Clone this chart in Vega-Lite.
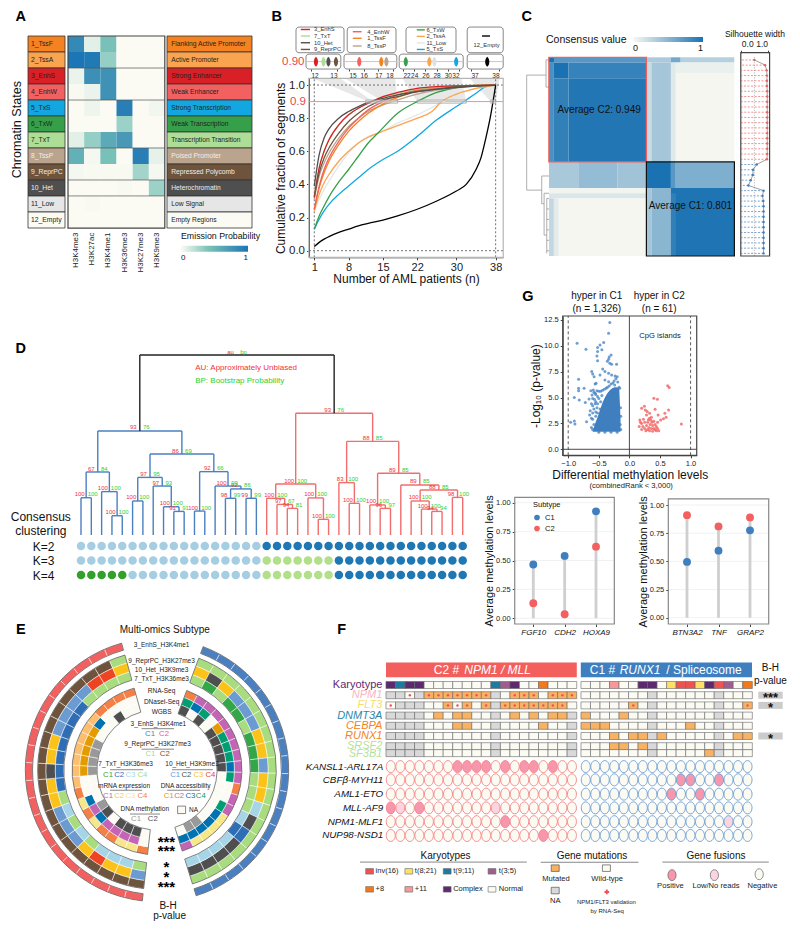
{"$schema":"https://vega.github.io/schema/vega-lite/v6.json","width":800,"height":933,"autosize":{"type":"fit","contains":"padding"},"padding":0,"background":"#ffffff",
"config":{"font":"Liberation Sans","view":{"stroke":null},"axis":{"grid":false,"labelColor":"#222","tickColor":"#444","domainColor":"#444","titleFontWeight":"normal","titleColor":"#111","labelFontSize":8,"tickSize":2.5,"labelPadding":2},"legend":{"titleFontWeight":"normal","titleColor":"#111","labelColor":"#111"},"text":{"baseline":"middle"}},
"resolve":{"scale":{"x":"independent","y":"independent","color":"independent","theta":"independent","radius":"independent","stroke":"independent"},"axis":{"x":"independent","y":"independent"},"legend":{"color":"independent","stroke":"independent"}},
"datasets":{
"states":[{"s":"1_TssF","n":"Flanking Active Promoter"},{"s":"2_TssA","n":"Active Promoter"},{"s":"3_EnhS","n":"Strong Enhancer"},{"s":"4_EnhW","n":"Weak Enhancer"},{"s":"5_TxS","n":"Strong Transcription"},{"s":"6_TxW","n":"Weak Transcription"},{"s":"7_TxT","n":"Transcription Transition"},{"s":"8_TssP","n":"Poised Promoter"},{"s":"9_ReprPC","n":"Repressed Polycomb"},{"s":"10_Het","n":"Heterochromatin"},{"s":"11_Low","n":"Low Signal"},{"s":"12_Empty","n":"Empty Regions"}],
"merges":[{"a":0,"b":1,"ha":0,"hb":0,"h":0.207,"m":0.5,"au":"100","bp":"100","k":"b"},{"a":3,"b":4,"ha":0,"hb":0,"h":0.107,"m":3.5,"au":"100","bp":"100","k":"b"},{"a":2,"b":3.5,"ha":0,"hb":0.107,"h":0.241,"m":2.75,"au":"100","bp":"100","k":"b"},{"a":0.5,"b":2.75,"ha":0.207,"hb":0.241,"h":0.35,"m":1.625,"au":"67","bp":"84","k":"b"},{"a":5,"b":6,"ha":0,"hb":0,"h":0.189,"m":5.5,"au":"100","bp":"100","k":"b"},{"a":9,"b":10,"ha":0,"hb":0,"h":0.131,"m":9.5,"au":"91","bp":"91","k":"b"},{"a":8,"b":9.5,"ha":0,"hb":0.131,"h":0.157,"m":8.75,"au":"100","bp":"100","k":"b"},{"a":7,"b":8.75,"ha":0,"hb":0.157,"h":0.272,"m":7.875,"au":"97","bp":"93","k":"b"},{"a":5.5,"b":7.875,"ha":0.189,"hb":0.272,"h":0.32,"m":6.69,"au":"97","bp":"95","k":"b"},{"a":11,"b":12,"ha":0,"hb":0,"h":0.133,"m":11.5,"au":"100","bp":"100","k":"b"},{"a":14,"b":15,"ha":0,"hb":0,"h":0.204,"m":14.5,"au":"98","bp":"99","k":"b"},{"a":16,"b":17,"ha":0,"hb":0,"h":0.204,"m":16.5,"au":"99","bp":"99","k":"b"},{"a":14.5,"b":16.5,"ha":0.204,"hb":0.204,"h":0.256,"m":15.5,"au":"92","bp":"86","k":"b"},{"a":13,"b":15.5,"ha":0,"hb":0.256,"h":0.272,"m":14.25,"au":"100","bp":"99","k":"b"},{"a":11.5,"b":14.25,"ha":0.133,"hb":0.272,"h":0.352,"m":12.875,"au":"92","bp":"66","k":"b"},{"a":6.69,"b":12.875,"ha":0.32,"hb":0.352,"h":0.45,"m":9.78,"au":"86","bp":"69","k":"b"},{"a":1.625,"b":9.78,"ha":0.35,"hb":0.45,"h":0.578,"m":5.7,"au":"93","bp":"76","k":"b"},{"a":20,"b":21,"ha":0,"hb":0,"h":0.148,"m":20.5,"au":"94","bp":"81","k":"r"},{"a":19,"b":20.5,"ha":0,"hb":0.148,"h":0.17,"m":19.75,"au":"97","bp":"67","k":"r"},{"a":18,"b":19.75,"ha":0,"hb":0.17,"h":0.204,"m":18.875,"au":"100","bp":"100","k":"r"},{"a":23,"b":24,"ha":0,"hb":0,"h":0.087,"m":23.5,"au":"100","bp":"100","k":"r"},{"a":22,"b":23.5,"ha":0,"hb":0.087,"h":0.206,"m":22.75,"au":"100","bp":"100","k":"r"},{"a":18.875,"b":22.75,"ha":0.204,"hb":0.206,"h":0.283,"m":20.81,"au":"100","bp":"100","k":"r"},{"a":26,"b":27,"ha":0,"hb":0,"h":0.176,"m":26.5,"au":"100","bp":"100","k":"r"},{"a":25,"b":26.5,"ha":0,"hb":0.176,"h":0.291,"m":25.75,"au":"83","bp":"100","k":"r"},{"a":29,"b":30,"ha":0,"hb":0,"h":0.148,"m":29.5,"au":"96","bp":"97","k":"r"},{"a":28,"b":29.5,"ha":0,"hb":0.148,"h":0.167,"m":28.75,"au":"100","bp":"100","k":"r"},{"a":34,"b":35,"ha":0,"hb":0,"h":0.131,"m":34.5,"au":"94","bp":"94","k":"r"},{"a":33,"b":34.5,"ha":0,"hb":0.131,"h":0.144,"m":33.75,"au":"100","bp":"100","k":"r"},{"a":32,"b":33.75,"ha":0,"hb":0.144,"h":0.189,"m":32.875,"au":"100","bp":"100","k":"r"},{"a":36,"b":37,"ha":0,"hb":0,"h":0.209,"m":36.5,"au":"98","bp":"100","k":"r"},{"a":32.875,"b":36.5,"ha":0.189,"hb":0.209,"h":0.25,"m":34.69,"au":"88","bp":"85","k":"r"},{"a":31,"b":34.69,"ha":0,"hb":0.25,"h":0.278,"m":32.84,"au":"89","bp":"85","k":"r"},{"a":28.75,"b":32.84,"ha":0.167,"hb":0.278,"h":0.343,"m":30.8,"au":"89","bp":"85","k":"r"},{"a":25.75,"b":30.8,"ha":0.291,"hb":0.343,"h":0.52,"m":28.27,"au":"88","bp":"85","k":"r"},{"a":20.81,"b":28.27,"ha":0.283,"hb":0.52,"h":0.676,"m":24.54,"au":"93","bp":"76","k":"r"},{"a":5.7,"b":24.54,"ha":0.578,"hb":0.676,"h":1,"m":15.12,"au":"au","bp":"bp","k":"x"}],
"rings":[{"r":1,"r0":0.945,"r1":1},{"r":2,"r0":0.843,"r1":0.906},{"r":3,"r0":0.772,"r1":0.843},{"r":4,"r0":0.708,"r1":0.772},{"r":5,"r0":0.587,"r1":0.645},{"r":6,"r0":0.526,"r1":0.587},{"r":7,"r0":0.456,"r1":0.526}],
"cellsC2":[{"t":1,"c":0,"v":"Cx"},{"t":1,"c":1,"v":"t911"},{"t":1,"c":2,"v":"Cx"},{"t":1,"c":3,"v":"Cx"},{"t":1,"c":4,"v":"N"},{"t":1,"c":5,"v":"N"},{"t":1,"c":6,"v":"N"},{"t":1,"c":7,"v":"N"},{"t":1,"c":8,"v":"N"},{"t":1,"c":9,"v":"N"},{"t":1,"c":10,"v":"N"},{"t":1,"c":11,"v":"t911"},{"t":1,"c":12,"v":"t35"},{"t":1,"c":13,"v":"Cx"},{"t":1,"c":14,"v":"N"},{"t":1,"c":15,"v":"N"},{"t":1,"c":16,"v":"p8"},{"t":1,"c":17,"v":"N"},{"t":1,"c":18,"v":"N"},{"t":1,"c":19,"v":"N"},
{"t":2,"c":0,"v":"A"},{"t":2,"c":1,"v":"A"},{"t":2,"c":2,"v":"T"},{"t":2,"c":3,"v":"A"},{"t":2,"c":4,"v":"S"},{"t":2,"c":5,"v":"S"},{"t":2,"c":6,"v":"S"},{"t":2,"c":7,"v":"S"},{"t":2,"c":8,"v":"S"},{"t":2,"c":9,"v":"S"},{"t":2,"c":10,"v":"S"},{"t":2,"c":11,"v":"A"},{"t":2,"c":12,"v":"W"},{"t":2,"c":13,"v":"S"},{"t":2,"c":14,"v":"S"},{"t":2,"c":15,"v":"S"},{"t":2,"c":16,"v":"W"},{"t":2,"c":17,"v":"S"},{"t":2,"c":18,"v":"S"},{"t":2,"c":19,"v":"S"},
{"t":3,"c":0,"v":"T"},{"t":3,"c":1,"v":"A"},{"t":3,"c":2,"v":"A"},{"t":3,"c":3,"v":"A"},{"t":3,"c":4,"v":"W"},{"t":3,"c":5,"v":"W"},{"t":3,"c":6,"v":"S"},{"t":3,"c":7,"v":"T"},{"t":3,"c":8,"v":"S"},{"t":3,"c":9,"v":"W"},{"t":3,"c":10,"v":"S"},{"t":3,"c":11,"v":"A"},{"t":3,"c":12,"v":"S"},{"t":3,"c":13,"v":"S"},{"t":3,"c":14,"v":"S"},{"t":3,"c":15,"v":"S"},{"t":3,"c":16,"v":"S"},{"t":3,"c":17,"v":"S"},{"t":3,"c":18,"v":"S"},{"t":3,"c":19,"v":"W"},
{"t":4,"c":0,"v":"A"},{"t":4,"c":1,"v":"A"},{"t":4,"c":2,"v":"A"},{"t":4,"c":3,"v":"A"},{"t":4,"c":4,"v":"W"},{"t":4,"c":5,"v":"M"},{"t":4,"c":6,"v":"W"},{"t":4,"c":7,"v":"M"},{"t":4,"c":8,"v":"M"},{"t":4,"c":9,"v":"W"},{"t":4,"c":10,"v":"W"},{"t":4,"c":11,"v":"A"},{"t":4,"c":12,"v":"W"},{"t":4,"c":13,"v":"M"},{"t":4,"c":14,"v":"W"},{"t":4,"c":15,"v":"M"},{"t":4,"c":16,"v":"W"},{"t":4,"c":17,"v":"M"},{"t":4,"c":18,"v":"M"},{"t":4,"c":19,"v":"A"},
{"t":5,"c":0,"v":"A"},{"t":5,"c":1,"v":"A"},{"t":5,"c":2,"v":"A"},{"t":5,"c":3,"v":"A"},{"t":5,"c":4,"v":"W"},{"t":5,"c":5,"v":"W"},{"t":5,"c":6,"v":"W"},{"t":5,"c":7,"v":"M"},{"t":5,"c":8,"v":"M"},{"t":5,"c":9,"v":"W"},{"t":5,"c":10,"v":"W"},{"t":5,"c":11,"v":"A"},{"t":5,"c":12,"v":"W"},{"t":5,"c":13,"v":"W"},{"t":5,"c":14,"v":"W"},{"t":5,"c":15,"v":"W"},{"t":5,"c":16,"v":"M"},{"t":5,"c":17,"v":"W"},{"t":5,"c":18,"v":"W"},{"t":5,"c":19,"v":"A"},
{"t":6,"c":0,"v":"A"},{"t":6,"c":1,"v":"A"},{"t":6,"c":2,"v":"A"},{"t":6,"c":3,"v":"A"},{"t":6,"c":4,"v":"W"},{"t":6,"c":5,"v":"W"},{"t":6,"c":6,"v":"W"},{"t":6,"c":7,"v":"W"},{"t":6,"c":8,"v":"W"},{"t":6,"c":9,"v":"W"},{"t":6,"c":10,"v":"W"},{"t":6,"c":11,"v":"A"},{"t":6,"c":12,"v":"W"},{"t":6,"c":13,"v":"W"},{"t":6,"c":14,"v":"W"},{"t":6,"c":15,"v":"W"},{"t":6,"c":16,"v":"W"},{"t":6,"c":17,"v":"W"},{"t":6,"c":18,"v":"W"},{"t":6,"c":19,"v":"A"},
{"t":7,"c":0,"v":"A"},{"t":7,"c":1,"v":"A"},{"t":7,"c":2,"v":"A"},{"t":7,"c":3,"v":"A"},{"t":7,"c":4,"v":"W"},{"t":7,"c":5,"v":"W"},{"t":7,"c":6,"v":"W"},{"t":7,"c":7,"v":"W"},{"t":7,"c":8,"v":"W"},{"t":7,"c":9,"v":"W"},{"t":7,"c":10,"v":"W"},{"t":7,"c":11,"v":"A"},{"t":7,"c":12,"v":"W"},{"t":7,"c":13,"v":"W"},{"t":7,"c":14,"v":"W"},{"t":7,"c":15,"v":"W"},{"t":7,"c":16,"v":"W"},{"t":7,"c":17,"v":"W"},{"t":7,"c":18,"v":"W"},{"t":7,"c":19,"v":"A"},
{"t":7.68,"c":0,"v":"A"},{"t":7.68,"c":1,"v":"A"},{"t":7.68,"c":2,"v":"A"},{"t":7.68,"c":3,"v":"A"},{"t":7.68,"c":4,"v":"W"},{"t":7.68,"c":5,"v":"W"},{"t":7.68,"c":6,"v":"W"},{"t":7.68,"c":7,"v":"W"},{"t":7.68,"c":8,"v":"W"},{"t":7.68,"c":9,"v":"W"},{"t":7.68,"c":10,"v":"W"},{"t":7.68,"c":11,"v":"A"},{"t":7.68,"c":12,"v":"W"},{"t":7.68,"c":13,"v":"W"},{"t":7.68,"c":14,"v":"W"},{"t":7.68,"c":15,"v":"W"},{"t":7.68,"c":16,"v":"W"},{"t":7.68,"c":17,"v":"W"},{"t":7.68,"c":18,"v":"W"},{"t":7.68,"c":19,"v":"A"}],
"cellsC1":[{"t":1,"c":0,"v":"N"},{"t":1,"c":1,"v":"N"},{"t":1,"c":2,"v":"N"},{"t":1,"c":3,"v":"p11"},{"t":1,"c":4,"v":"N"},{"t":1,"c":5,"v":"N"},{"t":1,"c":6,"v":"Cx"},{"t":1,"c":7,"v":"Cx"},{"t":1,"c":8,"v":"N"},{"t":1,"c":9,"v":"t821"},{"t":1,"c":10,"v":"inv16"},{"t":1,"c":11,"v":"inv16"},{"t":1,"c":12,"v":"t821"},{"t":1,"c":13,"v":"Cx"},{"t":1,"c":14,"v":"inv16"},{"t":1,"c":15,"v":"t35"},{"t":1,"c":16,"v":"N"},{"t":1,"c":17,"v":"p8"},
{"t":2,"c":0,"v":"W"},{"t":2,"c":1,"v":"W"},{"t":2,"c":2,"v":"W"},{"t":2,"c":3,"v":"W"},{"t":2,"c":4,"v":"W"},{"t":2,"c":5,"v":"W"},{"t":2,"c":6,"v":"W"},{"t":2,"c":7,"v":"A"},{"t":2,"c":8,"v":"W"},{"t":2,"c":9,"v":"W"},{"t":2,"c":10,"v":"W"},{"t":2,"c":11,"v":"W"},{"t":2,"c":12,"v":"W"},{"t":2,"c":13,"v":"W"},{"t":2,"c":14,"v":"A"},{"t":2,"c":15,"v":"W"},{"t":2,"c":16,"v":"W"},{"t":2,"c":17,"v":"W"},
{"t":3,"c":0,"v":"W"},{"t":3,"c":1,"v":"W"},{"t":3,"c":2,"v":"W"},{"t":3,"c":3,"v":"W"},{"t":3,"c":4,"v":"W"},{"t":3,"c":5,"v":"S"},{"t":3,"c":6,"v":"W"},{"t":3,"c":7,"v":"A"},{"t":3,"c":8,"v":"W"},{"t":3,"c":9,"v":"W"},{"t":3,"c":10,"v":"W"},{"t":3,"c":11,"v":"W"},{"t":3,"c":12,"v":"W"},{"t":3,"c":13,"v":"W"},{"t":3,"c":14,"v":"A"},{"t":3,"c":15,"v":"W"},{"t":3,"c":16,"v":"W"},{"t":3,"c":17,"v":"S"},
{"t":4,"c":0,"v":"M"},{"t":4,"c":1,"v":"W"},{"t":4,"c":2,"v":"W"},{"t":4,"c":3,"v":"W"},{"t":4,"c":4,"v":"M"},{"t":4,"c":5,"v":"W"},{"t":4,"c":6,"v":"W"},{"t":4,"c":7,"v":"A"},{"t":4,"c":8,"v":"W"},{"t":4,"c":9,"v":"W"},{"t":4,"c":10,"v":"W"},{"t":4,"c":11,"v":"W"},{"t":4,"c":12,"v":"W"},{"t":4,"c":13,"v":"W"},{"t":4,"c":14,"v":"A"},{"t":4,"c":15,"v":"W"},{"t":4,"c":16,"v":"W"},{"t":4,"c":17,"v":"W"},
{"t":5,"c":0,"v":"M"},{"t":5,"c":1,"v":"M"},{"t":5,"c":2,"v":"M"},{"t":5,"c":3,"v":"W"},{"t":5,"c":4,"v":"W"},{"t":5,"c":5,"v":"W"},{"t":5,"c":6,"v":"W"},{"t":5,"c":7,"v":"A"},{"t":5,"c":8,"v":"W"},{"t":5,"c":9,"v":"W"},{"t":5,"c":10,"v":"W"},{"t":5,"c":11,"v":"M"},{"t":5,"c":12,"v":"W"},{"t":5,"c":13,"v":"W"},{"t":5,"c":14,"v":"A"},{"t":5,"c":15,"v":"W"},{"t":5,"c":16,"v":"W"},{"t":5,"c":17,"v":"W"},
{"t":6,"c":0,"v":"W"},{"t":6,"c":1,"v":"W"},{"t":6,"c":2,"v":"W"},{"t":6,"c":3,"v":"M"},{"t":6,"c":4,"v":"W"},{"t":6,"c":5,"v":"M"},{"t":6,"c":6,"v":"M"},{"t":6,"c":7,"v":"A"},{"t":6,"c":8,"v":"M"},{"t":6,"c":9,"v":"W"},{"t":6,"c":10,"v":"W"},{"t":6,"c":11,"v":"W"},{"t":6,"c":12,"v":"W"},{"t":6,"c":13,"v":"W"},{"t":6,"c":14,"v":"A"},{"t":6,"c":15,"v":"W"},{"t":6,"c":16,"v":"M"},{"t":6,"c":17,"v":"M"},
{"t":7,"c":0,"v":"W"},{"t":7,"c":1,"v":"W"},{"t":7,"c":2,"v":"W"},{"t":7,"c":3,"v":"M"},{"t":7,"c":4,"v":"M"},{"t":7,"c":5,"v":"W"},{"t":7,"c":6,"v":"M"},{"t":7,"c":7,"v":"A"},{"t":7,"c":8,"v":"W"},{"t":7,"c":9,"v":"W"},{"t":7,"c":10,"v":"W"},{"t":7,"c":11,"v":"W"},{"t":7,"c":12,"v":"W"},{"t":7,"c":13,"v":"W"},{"t":7,"c":14,"v":"A"},{"t":7,"c":15,"v":"W"},{"t":7,"c":16,"v":"W"},{"t":7,"c":17,"v":"W"},
{"t":7.68,"c":0,"v":"W"},{"t":7.68,"c":1,"v":"W"},{"t":7.68,"c":2,"v":"W"},{"t":7.68,"c":3,"v":"W"},{"t":7.68,"c":4,"v":"W"},{"t":7.68,"c":5,"v":"W"},{"t":7.68,"c":6,"v":"W"},{"t":7.68,"c":7,"v":"A"},{"t":7.68,"c":8,"v":"W"},{"t":7.68,"c":9,"v":"W"},{"t":7.68,"c":10,"v":"W"},{"t":7.68,"c":11,"v":"W"},{"t":7.68,"c":12,"v":"W"},{"t":7.68,"c":13,"v":"M"},{"t":7.68,"c":14,"v":"A"},{"t":7.68,"c":15,"v":"W"},{"t":7.68,"c":16,"v":"W"},{"t":7.68,"c":17,"v":"W"}],
"fusC2":[{"t":9,"c":0,"v":"N"},{"t":9,"c":1,"v":"N"},{"t":9,"c":2,"v":"N"},{"t":9,"c":3,"v":"N"},{"t":9,"c":4,"v":"N"},{"t":9,"c":5,"v":"N"},{"t":9,"c":6,"v":"N"},{"t":9,"c":7,"v":"P"},{"t":9,"c":8,"v":"P"},{"t":9,"c":9,"v":"P"},{"t":9,"c":10,"v":"P"},{"t":9,"c":11,"v":"N"},{"t":9,"c":12,"v":"P"},{"t":9,"c":13,"v":"N"},{"t":9,"c":14,"v":"P"},{"t":9,"c":15,"v":"P"},{"t":9,"c":16,"v":"N"},{"t":9,"c":17,"v":"P"},{"t":9,"c":18,"v":"N"},{"t":9,"c":19,"v":"N"},
{"t":10.3,"c":0,"v":"N"},{"t":10.3,"c":1,"v":"N"},{"t":10.3,"c":2,"v":"N"},{"t":10.3,"c":3,"v":"N"},{"t":10.3,"c":4,"v":"N"},{"t":10.3,"c":5,"v":"N"},{"t":10.3,"c":6,"v":"N"},{"t":10.3,"c":7,"v":"N"},{"t":10.3,"c":8,"v":"N"},{"t":10.3,"c":9,"v":"N"},{"t":10.3,"c":10,"v":"N"},{"t":10.3,"c":11,"v":"N"},{"t":10.3,"c":12,"v":"N"},{"t":10.3,"c":13,"v":"N"},{"t":10.3,"c":14,"v":"N"},{"t":10.3,"c":15,"v":"N"},{"t":10.3,"c":16,"v":"N"},{"t":10.3,"c":17,"v":"N"},{"t":10.3,"c":18,"v":"N"},{"t":10.3,"c":19,"v":"N"},
{"t":11.7,"c":0,"v":"N"},{"t":11.7,"c":1,"v":"N"},{"t":11.7,"c":2,"v":"N"},{"t":11.7,"c":3,"v":"N"},{"t":11.7,"c":4,"v":"N"},{"t":11.7,"c":5,"v":"N"},{"t":11.7,"c":6,"v":"N"},{"t":11.7,"c":7,"v":"N"},{"t":11.7,"c":8,"v":"N"},{"t":11.7,"c":9,"v":"N"},{"t":11.7,"c":10,"v":"N"},{"t":11.7,"c":11,"v":"N"},{"t":11.7,"c":12,"v":"N"},{"t":11.7,"c":13,"v":"N"},{"t":11.7,"c":14,"v":"N"},{"t":11.7,"c":15,"v":"N"},{"t":11.7,"c":16,"v":"N"},{"t":11.7,"c":17,"v":"N"},{"t":11.7,"c":18,"v":"N"},{"t":11.7,"c":19,"v":"N"},
{"t":13.05,"c":0,"v":"P"},{"t":13.05,"c":1,"v":"L"},{"t":13.05,"c":2,"v":"N"},{"t":13.05,"c":3,"v":"P"},{"t":13.05,"c":4,"v":"N"},{"t":13.05,"c":5,"v":"N"},{"t":13.05,"c":6,"v":"N"},{"t":13.05,"c":7,"v":"N"},{"t":13.05,"c":8,"v":"N"},{"t":13.05,"c":9,"v":"N"},{"t":13.05,"c":10,"v":"N"},{"t":13.05,"c":11,"v":"L"},{"t":13.05,"c":12,"v":"N"},{"t":13.05,"c":13,"v":"N"},{"t":13.05,"c":14,"v":"N"},{"t":13.05,"c":15,"v":"N"},{"t":13.05,"c":16,"v":"N"},{"t":13.05,"c":17,"v":"N"},{"t":13.05,"c":18,"v":"N"},{"t":13.05,"c":19,"v":"N"},
{"t":14.4,"c":0,"v":"N"},{"t":14.4,"c":1,"v":"N"},{"t":14.4,"c":2,"v":"N"},{"t":14.4,"c":3,"v":"N"},{"t":14.4,"c":4,"v":"N"},{"t":14.4,"c":5,"v":"N"},{"t":14.4,"c":6,"v":"N"},{"t":14.4,"c":7,"v":"N"},{"t":14.4,"c":8,"v":"N"},{"t":14.4,"c":9,"v":"N"},{"t":14.4,"c":10,"v":"N"},{"t":14.4,"c":11,"v":"N"},{"t":14.4,"c":12,"v":"P"},{"t":14.4,"c":13,"v":"N"},{"t":14.4,"c":14,"v":"N"},{"t":14.4,"c":15,"v":"N"},{"t":14.4,"c":16,"v":"N"},{"t":14.4,"c":17,"v":"N"},{"t":14.4,"c":18,"v":"N"},{"t":14.4,"c":19,"v":"N"},
{"t":15.75,"c":0,"v":"N"},{"t":15.75,"c":1,"v":"N"},{"t":15.75,"c":2,"v":"N"},{"t":15.75,"c":3,"v":"N"},{"t":15.75,"c":4,"v":"N"},{"t":15.75,"c":5,"v":"N"},{"t":15.75,"c":6,"v":"N"},{"t":15.75,"c":7,"v":"N"},{"t":15.75,"c":8,"v":"N"},{"t":15.75,"c":9,"v":"N"},{"t":15.75,"c":10,"v":"N"},{"t":15.75,"c":11,"v":"N"},{"t":15.75,"c":12,"v":"N"},{"t":15.75,"c":13,"v":"N"},{"t":15.75,"c":14,"v":"N"},{"t":15.75,"c":15,"v":"N"},{"t":15.75,"c":16,"v":"P"},{"t":15.75,"c":17,"v":"N"},{"t":15.75,"c":18,"v":"N"},{"t":15.75,"c":19,"v":"N"}],
"fusC1":[{"t":9,"c":0,"v":"N"},{"t":9,"c":1,"v":"N"},{"t":9,"c":2,"v":"N"},{"t":9,"c":3,"v":"N"},{"t":9,"c":4,"v":"N"},{"t":9,"c":5,"v":"N"},{"t":9,"c":6,"v":"N"},{"t":9,"c":7,"v":"N"},{"t":9,"c":8,"v":"N"},{"t":9,"c":9,"v":"N"},{"t":9,"c":10,"v":"N"},{"t":9,"c":11,"v":"N"},{"t":9,"c":12,"v":"N"},{"t":9,"c":13,"v":"N"},{"t":9,"c":14,"v":"N"},{"t":9,"c":15,"v":"N"},{"t":9,"c":16,"v":"N"},{"t":9,"c":17,"v":"N"},
{"t":10.3,"c":0,"v":"N"},{"t":10.3,"c":1,"v":"N"},{"t":10.3,"c":2,"v":"N"},{"t":10.3,"c":3,"v":"N"},{"t":10.3,"c":4,"v":"N"},{"t":10.3,"c":5,"v":"N"},{"t":10.3,"c":6,"v":"N"},{"t":10.3,"c":7,"v":"N"},{"t":10.3,"c":8,"v":"N"},{"t":10.3,"c":9,"v":"N"},{"t":10.3,"c":10,"v":"P"},{"t":10.3,"c":11,"v":"P"},{"t":10.3,"c":12,"v":"N"},{"t":10.3,"c":13,"v":"N"},{"t":10.3,"c":14,"v":"P"},{"t":10.3,"c":15,"v":"N"},{"t":10.3,"c":16,"v":"N"},{"t":10.3,"c":17,"v":"N"},
{"t":11.7,"c":0,"v":"N"},{"t":11.7,"c":1,"v":"N"},{"t":11.7,"c":2,"v":"N"},{"t":11.7,"c":3,"v":"N"},{"t":11.7,"c":4,"v":"N"},{"t":11.7,"c":5,"v":"N"},{"t":11.7,"c":6,"v":"N"},{"t":11.7,"c":7,"v":"N"},{"t":11.7,"c":8,"v":"N"},{"t":11.7,"c":9,"v":"P"},{"t":11.7,"c":10,"v":"N"},{"t":11.7,"c":11,"v":"N"},{"t":11.7,"c":12,"v":"P"},{"t":11.7,"c":13,"v":"N"},{"t":11.7,"c":14,"v":"N"},{"t":11.7,"c":15,"v":"N"},{"t":11.7,"c":16,"v":"N"},{"t":11.7,"c":17,"v":"N"},
{"t":13.05,"c":0,"v":"N"},{"t":13.05,"c":1,"v":"N"},{"t":13.05,"c":2,"v":"N"},{"t":13.05,"c":3,"v":"N"},{"t":13.05,"c":4,"v":"N"},{"t":13.05,"c":5,"v":"N"},{"t":13.05,"c":6,"v":"N"},{"t":13.05,"c":7,"v":"N"},{"t":13.05,"c":8,"v":"N"},{"t":13.05,"c":9,"v":"N"},{"t":13.05,"c":10,"v":"N"},{"t":13.05,"c":11,"v":"N"},{"t":13.05,"c":12,"v":"N"},{"t":13.05,"c":13,"v":"N"},{"t":13.05,"c":14,"v":"N"},{"t":13.05,"c":15,"v":"N"},{"t":13.05,"c":16,"v":"N"},{"t":13.05,"c":17,"v":"N"},
{"t":14.4,"c":0,"v":"N"},{"t":14.4,"c":1,"v":"N"},{"t":14.4,"c":2,"v":"N"},{"t":14.4,"c":3,"v":"N"},{"t":14.4,"c":4,"v":"N"},{"t":14.4,"c":5,"v":"N"},{"t":14.4,"c":6,"v":"N"},{"t":14.4,"c":7,"v":"N"},{"t":14.4,"c":8,"v":"N"},{"t":14.4,"c":9,"v":"N"},{"t":14.4,"c":10,"v":"N"},{"t":14.4,"c":11,"v":"N"},{"t":14.4,"c":12,"v":"N"},{"t":14.4,"c":13,"v":"N"},{"t":14.4,"c":14,"v":"N"},{"t":14.4,"c":15,"v":"L"},{"t":14.4,"c":16,"v":"N"},{"t":14.4,"c":17,"v":"N"},
{"t":15.75,"c":0,"v":"N"},{"t":15.75,"c":1,"v":"N"},{"t":15.75,"c":2,"v":"N"},{"t":15.75,"c":3,"v":"N"},{"t":15.75,"c":4,"v":"N"},{"t":15.75,"c":5,"v":"N"},{"t":15.75,"c":6,"v":"N"},{"t":15.75,"c":7,"v":"N"},{"t":15.75,"c":8,"v":"N"},{"t":15.75,"c":9,"v":"N"},{"t":15.75,"c":10,"v":"N"},{"t":15.75,"c":11,"v":"N"},{"t":15.75,"c":12,"v":"N"},{"t":15.75,"c":13,"v":"N"},{"t":15.75,"c":14,"v":"N"},{"t":15.75,"c":15,"v":"N"},{"t":15.75,"c":16,"v":"N"},{"t":15.75,"c":17,"v":"N"}]
},
"layer":[
{"data":{"name":"states"},"mark":{"type":"rect","stroke":"#333","strokeWidth":0.8},"encoding":{"y":{"field":"s","type":"nominal","sort":null,"scale":{"range":[36,228]},"axis":null},"x":{"datum":0,"scale":{"domain":[0,1],"range":[28,65]},"axis":null},"x2":{"datum":1},"color":{"field":"s","type":"nominal","sort":null,"scale":{"domain":["1_TssF","2_TssA","3_EnhS","4_EnhW","5_TxS","6_TxW","7_TxT","8_TssP","9_ReprPC","10_Het","11_Low","12_Empty"],"range":["#F58220","#FBA44F","#D92027","#F26060","#12A7E0","#35A049","#AEDD95","#BBA48D","#6E543D","#4F4F4F","#E6E6E6","#FBFBF3"]},"legend":null}}},
{"data":{"name":"states"},"mark":{"type":"text","align":"left","fontSize":6.8},"encoding":{"y":{"field":"s","type":"nominal","sort":null,"scale":{"range":[36,228]},"axis":null},"x":{"datum":0.08,"scale":{"domain":[0,1],"range":[28,65]},"axis":null},"text":{"field":"s"},"color":{"field":"s","type":"nominal","sort":null,"scale":{"domain":["1_TssF","2_TssA","3_EnhS","4_EnhW","5_TxS","6_TxW","7_TxT","8_TssP","9_ReprPC","10_Het","11_Low","12_Empty"],"range":["#222","#222","#222","#222","#222","#222","#222","#EEE","#EEE","#EEE","#222","#222"]},"legend":null}}},
{"data":{"name":"states"},"mark":{"type":"rect","stroke":"#333","strokeWidth":0.8},"encoding":{"y":{"field":"s","type":"nominal","sort":null,"scale":{"range":[36,228]},"axis":null},"x":{"datum":0,"scale":{"domain":[0,1],"range":[167,252]},"axis":null},"x2":{"datum":1},"color":{"field":"s","type":"nominal","sort":null,"scale":{"domain":["1_TssF","2_TssA","3_EnhS","4_EnhW","5_TxS","6_TxW","7_TxT","8_TssP","9_ReprPC","10_Het","11_Low","12_Empty"],"range":["#F58220","#FBA44F","#D92027","#F26060","#12A7E0","#35A049","#AEDD95","#BBA48D","#6E543D","#4F4F4F","#E6E6E6","#FBFBF3"]},"legend":null}}},
{"data":{"name":"states"},"mark":{"type":"text","align":"left","fontSize":6.7},"encoding":{"y":{"field":"s","type":"nominal","sort":null,"scale":{"range":[36,228]},"axis":null},"x":{"datum":0.05,"scale":{"domain":[0,1],"range":[167,252]},"axis":null},"text":{"field":"n"},"color":{"field":"s","type":"nominal","sort":null,"scale":{"domain":["1_TssF","2_TssA","3_EnhS","4_EnhW","5_TxS","6_TxW","7_TxT","8_TssP","9_ReprPC","10_Het","11_Low","12_Empty"],"range":["#222","#222","#222","#222","#222","#222","#222","#EEE","#EEE","#EEE","#222","#222"]},"legend":null}}},
{"data":{"values":[{"s":"1_TssF","m":"H3K4me3","v":0.85},{"s":"1_TssF","m":"H3K27ac","v":0.08},{"s":"1_TssF","m":"H3K4me1","v":0.42},{"s":"1_TssF","m":"H3K36me3","v":0},{"s":"1_TssF","m":"H3K27me3","v":0},{"s":"1_TssF","m":"H3K9me3","v":0},{"s":"2_TssA","m":"H3K4me3","v":1},{"s":"2_TssA","m":"H3K27ac","v":0.96},{"s":"2_TssA","m":"H3K4me1","v":0.32},{"s":"2_TssA","m":"H3K36me3","v":0},{"s":"2_TssA","m":"H3K27me3","v":0},{"s":"2_TssA","m":"H3K9me3","v":0},{"s":"3_EnhS","m":"H3K4me3","v":0.05},{"s":"3_EnhS","m":"H3K27ac","v":0.8},{"s":"3_EnhS","m":"H3K4me1","v":0.78},{"s":"3_EnhS","m":"H3K36me3","v":0},{"s":"3_EnhS","m":"H3K27me3","v":0},{"s":"3_EnhS","m":"H3K9me3","v":0},{"s":"4_EnhW","m":"H3K4me3","v":0.01},{"s":"4_EnhW","m":"H3K27ac","v":0.05},{"s":"4_EnhW","m":"H3K4me1","v":0.78},{"s":"4_EnhW","m":"H3K36me3","v":0},{"s":"4_EnhW","m":"H3K27me3","v":0},{"s":"4_EnhW","m":"H3K9me3","v":0},{"s":"5_TxS","m":"H3K4me3","v":0},{"s":"5_TxS","m":"H3K27ac","v":0.04},{"s":"5_TxS","m":"H3K4me1","v":0},{"s":"5_TxS","m":"H3K36me3","v":0.92},{"s":"5_TxS","m":"H3K27me3","v":0},{"s":"5_TxS","m":"H3K9me3","v":0.03},{"s":"6_TxW","m":"H3K4me3","v":0},{"s":"6_TxW","m":"H3K27ac","v":0},{"s":"6_TxW","m":"H3K4me1","v":0},{"s":"6_TxW","m":"H3K36me3","v":0.3},{"s":"6_TxW","m":"H3K27me3","v":0},{"s":"6_TxW","m":"H3K9me3","v":0},{"s":"7_TxT","m":"H3K4me3","v":0.08},{"s":"7_TxT","m":"H3K27ac","v":0.32},{"s":"7_TxT","m":"H3K4me1","v":0.6},{"s":"7_TxT","m":"H3K36me3","v":0.72},{"s":"7_TxT","m":"H3K27me3","v":0},{"s":"7_TxT","m":"H3K9me3","v":0},{"s":"8_TssP","m":"H3K4me3","v":0.55},{"s":"8_TssP","m":"H3K27ac","v":0.02},{"s":"8_TssP","m":"H3K4me1","v":0.42},{"s":"8_TssP","m":"H3K36me3","v":0},{"s":"8_TssP","m":"H3K27me3","v":0.92},{"s":"8_TssP","m":"H3K9me3","v":0.07},{"s":"9_ReprPC","m":"H3K4me3","v":0.02},{"s":"9_ReprPC","m":"H3K27ac","v":0.01},{"s":"9_ReprPC","m":"H3K4me1","v":0.01},{"s":"9_ReprPC","m":"H3K36me3","v":0.01},{"s":"9_ReprPC","m":"H3K27me3","v":0.28},{"s":"9_ReprPC","m":"H3K9me3","v":0.02},{"s":"10_Het","m":"H3K4me3","v":0},{"s":"10_Het","m":"H3K27ac","v":0},{"s":"10_Het","m":"H3K4me1","v":0},{"s":"10_Het","m":"H3K36me3","v":0.01},{"s":"10_Het","m":"H3K27me3","v":0},{"s":"10_Het","m":"H3K9me3","v":0.3},{"s":"11_Low","m":"H3K4me3","v":0},{"s":"11_Low","m":"H3K27ac","v":0.01},{"s":"11_Low","m":"H3K4me1","v":0},{"s":"11_Low","m":"H3K36me3","v":0},{"s":"11_Low","m":"H3K27me3","v":0},{"s":"11_Low","m":"H3K9me3","v":0},{"s":"12_Empty","m":"H3K4me3","v":0},{"s":"12_Empty","m":"H3K27ac","v":0},{"s":"12_Empty","m":"H3K4me1","v":0},{"s":"12_Empty","m":"H3K36me3","v":0},{"s":"12_Empty","m":"H3K27me3","v":0},{"s":"12_Empty","m":"H3K9me3","v":0}]},"mark":"rect","encoding":{"x":{"field":"m","type":"nominal","sort":null,"scale":{"domain":["H3K4me3","H3K27ac","H3K4me1","H3K36me3","H3K27me3","H3K9me3"],"range":[68,165],"paddingInner":0,"paddingOuter":0},"axis":{"orient":"bottom","offset":-705,"title":null,"labelAngle":-90,"labelFontSize":8,"ticks":false,"domain":false,"labelPadding":4}},"y":{"field":"s","type":"nominal","scale":{"domain":["1_TssF","2_TssA","3_EnhS","4_EnhW","5_TxS","6_TxW","7_TxT","8_TssP","9_ReprPC","10_Het","11_Low","12_Empty"],"range":[36,228],"paddingInner":0,"paddingOuter":0},"axis":null},"color":{"field":"v","type":"quantitative","scale":{"domain":[0,0.4,1],"range":["#FBFBF3","#7CC3B8","#1C75B5"],"interpolate":"rgb"},"legend":{"orient":"none","legendX":181,"legendY":232,"direction":"horizontal","title":"Emission Probability","titleFontSize":8.8,"gradientLength":67,"gradientThickness":6,"values":[0,1],"format":".0f","labelFontSize":8}}}},
{"data":{"values":[{"g":1,"f":1.04,"a":0.8,"b":6.3},{"g":1,"f":0.9,"a":12,"b":13},{"g":2,"f":1.04,"a":7.3,"b":17.5},{"g":2,"f":0.9,"a":15,"b":18},{"g":3,"f":1.04,"a":19,"b":31},{"g":3,"f":0.9,"a":22,"b":32},{"g":4,"f":1.04,"a":32.7,"b":38.8},{"g":4,"f":0.9,"a":37,"b":38}]},"mark":{"type":"area","orient":"horizontal","color":"#E8E8E8"},"encoding":{"y":{"field":"f","type":"quantitative","scale":{"domain":[-0.04,1.04],"range":[257.3,78.4]},"axis":null},"x":{"field":"a","type":"quantitative","scale":{"domain":[-0.08,39.5],"range":[309,503]},"axis":null},"x2":{"field":"b"},"detail":{"field":"g"}}},
{"data":{"values":[{"a":-0.08,"b":39.5,"f":0,"g":0},{"a":-0.08,"b":39.5,"f":1,"g":1},{"a":1,"b":1,"f":-0.04,"g":1.04},{"a":38,"b":38,"f":-0.04,"g":1.04}]},"mark":{"type":"rule","color":"#333","strokeDash":[2,2],"strokeWidth":0.7},"encoding":{"x":{"field":"a","type":"quantitative","scale":{"domain":[-0.08,39.5],"range":[309,503]},"axis":null},"x2":{"field":"b"},"y":{"field":"f","type":"quantitative","scale":{"domain":[-0.04,1.04],"range":[257.3,78.4]},"axis":null},"y2":{"field":"g"}}},
{"data":{"values":[{"a":-0.08,"b":39.5,"f":0.9}]},"mark":{"type":"rule","color":"#F08080","strokeWidth":0.9},"encoding":{"x":{"field":"a","type":"quantitative","scale":{"domain":[-0.08,39.5],"range":[309,503]},"axis":null},"x2":{"field":"b"},"y":{"field":"f","type":"quantitative","scale":{"domain":[-0.04,1.04],"range":[257.3,78.4]},"axis":null}}},
{"data":{"values":[{"st":"5_TxS","n":1,"f":0.13},{"st":"5_TxS","n":2,"f":0.19},{"st":"5_TxS","n":3,"f":0.24},{"st":"5_TxS","n":4,"f":0.28},{"st":"5_TxS","n":6,"f":0.34},{"st":"5_TxS","n":8,"f":0.39},{"st":"5_TxS","n":10,"f":0.44},{"st":"5_TxS","n":12,"f":0.49},{"st":"5_TxS","n":15,"f":0.55},{"st":"5_TxS","n":18,"f":0.6},{"st":"5_TxS","n":22,"f":0.69},{"st":"5_TxS","n":26,"f":0.79},{"st":"5_TxS","n":30,"f":0.87},{"st":"5_TxS","n":32,"f":0.91},{"st":"5_TxS","n":34,"f":0.95},{"st":"5_TxS","n":36,"f":0.99},{"st":"5_TxS","n":38,"f":1},
{"st":"11_Low","n":1,"f":0.24},{"st":"11_Low","n":2,"f":0.31},{"st":"11_Low","n":3,"f":0.37},{"st":"11_Low","n":4,"f":0.42},{"st":"11_Low","n":6,"f":0.51},{"st":"11_Low","n":8,"f":0.59},{"st":"11_Low","n":10,"f":0.65},{"st":"11_Low","n":12,"f":0.69},{"st":"11_Low","n":14,"f":0.71},{"st":"11_Low","n":18,"f":0.77},{"st":"11_Low","n":22,"f":0.82},{"st":"11_Low","n":26,"f":0.88},{"st":"11_Low","n":28,"f":0.91},{"st":"11_Low","n":30,"f":0.94},{"st":"11_Low","n":34,"f":0.98},{"st":"11_Low","n":38,"f":1},
{"st":"2_TssA","n":1,"f":0.24},{"st":"2_TssA","n":2,"f":0.34},{"st":"2_TssA","n":3,"f":0.41},{"st":"2_TssA","n":4,"f":0.46},{"st":"2_TssA","n":6,"f":0.54},{"st":"2_TssA","n":8,"f":0.6},{"st":"2_TssA","n":10,"f":0.65},{"st":"2_TssA","n":12,"f":0.685},{"st":"2_TssA","n":14,"f":0.71},{"st":"2_TssA","n":18,"f":0.755},{"st":"2_TssA","n":22,"f":0.8},{"st":"2_TssA","n":25,"f":0.84},{"st":"2_TssA","n":27,"f":0.9},{"st":"2_TssA","n":30,"f":0.945},{"st":"2_TssA","n":34,"f":0.98},{"st":"2_TssA","n":38,"f":1},
{"st":"6_TxW","n":1,"f":0.13},{"st":"6_TxW","n":2,"f":0.21},{"st":"6_TxW","n":3,"f":0.27},{"st":"6_TxW","n":4,"f":0.325},{"st":"6_TxW","n":6,"f":0.415},{"st":"6_TxW","n":8,"f":0.49},{"st":"6_TxW","n":10,"f":0.57},{"st":"6_TxW","n":12,"f":0.65},{"st":"6_TxW","n":14,"f":0.71},{"st":"6_TxW","n":18,"f":0.83},{"st":"6_TxW","n":22,"f":0.9},{"st":"6_TxW","n":26,"f":0.955},{"st":"6_TxW","n":30,"f":0.985},{"st":"6_TxW","n":34,"f":0.997},{"st":"6_TxW","n":38,"f":1},
{"st":"8_TssP","n":1,"f":0.31},{"st":"8_TssP","n":2,"f":0.45},{"st":"8_TssP","n":3,"f":0.53},{"st":"8_TssP","n":4,"f":0.59},{"st":"8_TssP","n":6,"f":0.68},{"st":"8_TssP","n":8,"f":0.75},{"st":"8_TssP","n":10,"f":0.8},{"st":"8_TssP","n":12,"f":0.84},{"st":"8_TssP","n":15,"f":0.88},{"st":"8_TssP","n":18,"f":0.91},{"st":"8_TssP","n":22,"f":0.945},{"st":"8_TssP","n":26,"f":0.97},{"st":"8_TssP","n":30,"f":0.985},{"st":"8_TssP","n":34,"f":0.995},{"st":"8_TssP","n":38,"f":1},
{"st":"1_TssF","n":1,"f":0.25},{"st":"1_TssF","n":2,"f":0.38},{"st":"1_TssF","n":3,"f":0.47},{"st":"1_TssF","n":4,"f":0.54},{"st":"1_TssF","n":6,"f":0.64},{"st":"1_TssF","n":8,"f":0.72},{"st":"1_TssF","n":10,"f":0.78},{"st":"1_TssF","n":12,"f":0.83},{"st":"1_TssF","n":15,"f":0.885},{"st":"1_TssF","n":18,"f":0.925},{"st":"1_TssF","n":22,"f":0.965},{"st":"1_TssF","n":26,"f":0.985},{"st":"1_TssF","n":30,"f":0.995},{"st":"1_TssF","n":38,"f":1},
{"st":"4_EnhW","n":1,"f":0.25},{"st":"4_EnhW","n":2,"f":0.39},{"st":"4_EnhW","n":3,"f":0.49},{"st":"4_EnhW","n":4,"f":0.56},{"st":"4_EnhW","n":6,"f":0.66},{"st":"4_EnhW","n":8,"f":0.74},{"st":"4_EnhW","n":10,"f":0.8},{"st":"4_EnhW","n":12,"f":0.85},{"st":"4_EnhW","n":15,"f":0.9},{"st":"4_EnhW","n":18,"f":0.94},{"st":"4_EnhW","n":22,"f":0.97},{"st":"4_EnhW","n":26,"f":0.985},{"st":"4_EnhW","n":30,"f":0.995},{"st":"4_EnhW","n":38,"f":1},
{"st":"7_TxT","n":1,"f":0.34},{"st":"7_TxT","n":2,"f":0.5},{"st":"7_TxT","n":3,"f":0.6},{"st":"7_TxT","n":4,"f":0.67},{"st":"7_TxT","n":6,"f":0.76},{"st":"7_TxT","n":8,"f":0.82},{"st":"7_TxT","n":10,"f":0.86},{"st":"7_TxT","n":12,"f":0.89},{"st":"7_TxT","n":15,"f":0.925},{"st":"7_TxT","n":18,"f":0.95},{"st":"7_TxT","n":22,"f":0.975},{"st":"7_TxT","n":26,"f":0.988},{"st":"7_TxT","n":30,"f":0.995},{"st":"7_TxT","n":38,"f":1},
{"st":"3_EnhS","n":1,"f":0.32},{"st":"3_EnhS","n":2,"f":0.5},{"st":"3_EnhS","n":3,"f":0.6},{"st":"3_EnhS","n":4,"f":0.67},{"st":"3_EnhS","n":6,"f":0.76},{"st":"3_EnhS","n":8,"f":0.82},{"st":"3_EnhS","n":10,"f":0.86},{"st":"3_EnhS","n":12,"f":0.89},{"st":"3_EnhS","n":15,"f":0.93},{"st":"3_EnhS","n":18,"f":0.955},{"st":"3_EnhS","n":22,"f":0.98},{"st":"3_EnhS","n":26,"f":0.99},{"st":"3_EnhS","n":30,"f":0.995},{"st":"3_EnhS","n":38,"f":1},
{"st":"9_ReprPC","n":1,"f":0.33},{"st":"9_ReprPC","n":2,"f":0.47},{"st":"9_ReprPC","n":3,"f":0.56},{"st":"9_ReprPC","n":4,"f":0.62},{"st":"9_ReprPC","n":6,"f":0.71},{"st":"9_ReprPC","n":8,"f":0.78},{"st":"9_ReprPC","n":10,"f":0.83},{"st":"9_ReprPC","n":12,"f":0.87},{"st":"9_ReprPC","n":15,"f":0.91},{"st":"9_ReprPC","n":18,"f":0.93},{"st":"9_ReprPC","n":22,"f":0.96},{"st":"9_ReprPC","n":26,"f":0.975},{"st":"9_ReprPC","n":30,"f":0.99},{"st":"9_ReprPC","n":38,"f":1},
{"st":"10_Het","n":1,"f":0.39},{"st":"10_Het","n":2,"f":0.58},{"st":"10_Het","n":3,"f":0.68},{"st":"10_Het","n":4,"f":0.735},{"st":"10_Het","n":6,"f":0.8},{"st":"10_Het","n":8,"f":0.84},{"st":"10_Het","n":10,"f":0.87},{"st":"10_Het","n":12,"f":0.895},{"st":"10_Het","n":15,"f":0.92},{"st":"10_Het","n":18,"f":0.94},{"st":"10_Het","n":22,"f":0.96},{"st":"10_Het","n":26,"f":0.975},{"st":"10_Het","n":30,"f":0.985},{"st":"10_Het","n":38,"f":1},
{"st":"12_Empty","n":1,"f":0.025},{"st":"12_Empty","n":2,"f":0.05},{"st":"12_Empty","n":3,"f":0.07},{"st":"12_Empty","n":4,"f":0.085},{"st":"12_Empty","n":6,"f":0.11},{"st":"12_Empty","n":8,"f":0.13},{"st":"12_Empty","n":10,"f":0.15},{"st":"12_Empty","n":12,"f":0.165},{"st":"12_Empty","n":15,"f":0.185},{"st":"12_Empty","n":18,"f":0.21},{"st":"12_Empty","n":22,"f":0.25},{"st":"12_Empty","n":26,"f":0.3},{"st":"12_Empty","n":30,"f":0.36},{"st":"12_Empty","n":32,"f":0.4},{"st":"12_Empty","n":34,"f":0.49},{"st":"12_Empty","n":35,"f":0.56},{"st":"12_Empty","n":36,"f":0.68},{"st":"12_Empty","n":37,"f":0.82},{"st":"12_Empty","n":38,"f":1}]},"mark":{"type":"line","interpolate":"monotone","strokeWidth":1.3},"encoding":{"x":{"field":"n","type":"quantitative","scale":{"domain":[-0.08,39.5],"range":[309,503]},"axis":{"orient":"bottom","offset":-675.7,"values":[1,8,15,22,30,38],"title":"Number of AML patients (n)","titleFontSize":12,"titlePadding":1,"labelFontSize":11,"grid":false}},"y":{"field":"f","type":"quantitative","scale":{"domain":[-0.04,1.04],"range":[257.3,78.4]},"axis":{"orient":"left","offset":-309,"values":[0,0.2,0.4,0.6,0.8,1],"format":".1f","title":"Cumulative fraction of segments","titleFontSize":12,"titlePadding":1,"labelFontSize":11.5}},"color":{"field":"st","type":"nominal","sort":null,"scale":{"domain":["1_TssF","2_TssA","3_EnhS","4_EnhW","5_TxS","6_TxW","7_TxT","8_TssP","9_ReprPC","10_Het","11_Low","12_Empty"],"range":["#F58220","#FBA44F","#D92027","#F26060","#12A7E0","#35A049","#AEDD95","#BBA48D","#6E543D","#4F4F4F","#E6E6E6","#000000"]},"legend":null},"order":{"field":"n"}}},
{"data":{"values":[{"a":11.5,"b":18,"f":0.89,"g":0.91},{"a":22,"b":32,"f":0.89,"g":0.91},{"a":37,"b":38,"f":0.89,"g":0.91}]},"mark":{"type":"rect","fill":"#DDD","fillOpacity":0.5,"stroke":"#999","strokeWidth":0.6},"encoding":{"x":{"field":"a","type":"quantitative","scale":{"domain":[-0.08,39.5],"range":[309,503]},"axis":null},"x2":{"field":"b"},"y":{"field":"f","type":"quantitative","scale":{"domain":[-0.04,1.04],"range":[257.3,78.4]},"axis":null},"y2":{"field":"g"}}},
{"data":{"values":[{"t":"0.9","n":-0.7,"f":0.9}]},"mark":{"type":"text","align":"right","fontSize":11.5,"color":"#E8474A"},"encoding":{"text":{"field":"t"},"x":{"field":"n","type":"quantitative","scale":{"domain":[-0.08,39.5],"range":[309,503]},"axis":null},"y":{"field":"f","type":"quantitative","scale":{"domain":[-0.04,1.04],"range":[257.3,78.4]},"axis":null}}},
{"data":{"values":[{"a":38.25,"b":42.6,"c":5.8,"d":7.4},{"a":43,"b":49.6,"c":5.8,"d":7.4},{"a":49.9,"b":57.9,"c":5.8,"d":7.4},{"a":58.4,"b":62.9,"c":5.8,"d":7.4},{"a":37,"b":43,"c":2.9,"d":5.65},{"a":43.4,"b":49.5,"c":2.9,"d":5.65},{"a":50.75,"b":57,"c":2.9,"d":5.65},{"a":58.4,"b":62.9,"c":2.9,"d":5.65}]},"mark":{"type":"rect","fillOpacity":0,"stroke":"#555","strokeWidth":0.7,"cornerRadius":3},"encoding":{"x":{"field":"a","type":"quantitative","scale":{"domain":[0,100],"range":[0,800]},"axis":null},"x2":{"field":"b"},"y":{"field":"c","type":"quantitative","scale":{"domain":[0,100],"range":[0,933]},"axis":null},"y2":{"field":"d"}}},
{"data":{"values":[{"a":38.25,"b":42.6,"c":6.6},{"a":43,"b":49.6,"c":6.6},{"a":49.9,"b":57.9,"c":6.6},{"a":58.4,"b":62.9,"c":6.6}]},"mark":{"type":"rule","color":"#F8B4B4","strokeWidth":1},"encoding":{"x":{"field":"a","type":"quantitative","scale":{"domain":[0,100],"range":[0,800]},"axis":null},"x2":{"field":"b"},"y":{"field":"c","type":"quantitative","scale":{"domain":[0,100],"range":[0,933]},"axis":null}}},
{"data":{"values":[{"st":"3_EnhS","n":12.19,"p":0.9},{"st":"7_TxT","n":12.48,"p":0.9},{"st":"10_Het","n":12.67,"p":0.9},{"st":"9_ReprPC","n":12.96,"p":0.9}]},"mark":{"type":"point","filled":true,"opacity":1,"size":100,"shape":"M0,-1C0.55,-0.6 0.55,0.6 0,1C-0.55,0.6 -0.55,-0.6 0,-1Z"},"encoding":{"x":{"field":"n","type":"quantitative","scale":{"domain":[12,13],"range":[311,337]},"axis":{"orient":"bottom","offset":-864,"values":[12,13],"format":"d","title":null,"labelFontSize":6.5,"tickSize":2,"domain":false,"labelPadding":1}},"y":{"field":"p","type":"quantitative","scale":{"domain":[0.85,0.95],"range":[66.7,56.7]},"axis":{"orient":"left","offset":-306,"values":[0.9],"format":".2f","title":null,"labelFontSize":11.5,"labelColor":"#E8474A","ticks":false,"domain":false,"labelPadding":2}},"color":{"field":"st","type":"nominal","scale":{"domain":["3_EnhS","7_TxT","10_Het","9_ReprPC"],"range":["#D92027","#AEDD95","#4F4F4F","#6E543D"]},"legend":null}}},
{"data":{"values":[{"st":"4_EnhW","n":15.7,"p":0.9},{"st":"1_TssF","n":17.2,"p":0.9},{"st":"8_TssP","n":17.55,"p":0.9}]},"mark":{"type":"point","filled":true,"opacity":1,"size":100,"shape":"M0,-1C0.55,-0.6 0.55,0.6 0,1C-0.55,0.6 -0.55,-0.6 0,-1Z"},"encoding":{"x":{"field":"n","type":"quantitative","scale":{"domain":[15,18],"range":[349,393]},"axis":{"orient":"bottom","offset":-864,"values":[15,16,17,18],"format":"d","title":null,"labelFontSize":6.5,"tickSize":2,"domain":false,"labelPadding":1}},"y":{"field":"p","type":"quantitative","scale":{"domain":[0.85,0.95],"range":[66.7,56.7]},"axis":null},"color":{"field":"st","type":"nominal","scale":{"domain":["4_EnhW","1_TssF","8_TssP"],"range":["#F26060","#F58220","#BBA48D"]},"legend":null}}},
{"data":{"values":[{"st":"6_TxW","n":22.5,"p":0.9},{"st":"2_TssA","n":26.7,"p":0.9},{"st":"11_Low","n":27.6,"p":0.9},{"st":"5_TxS","n":31.5,"p":0.9}]},"mark":{"type":"point","filled":true,"opacity":1,"size":100,"shape":"M0,-1C0.55,-0.6 0.55,0.6 0,1C-0.55,0.6 -0.55,-0.6 0,-1Z"},"encoding":{"x":{"field":"n","type":"quantitative","scale":{"domain":[22,32],"range":[403,459]},"axis":{"orient":"bottom","offset":-864,"values":[22,24,26,28,30,32],"format":"d","title":null,"labelFontSize":6.5,"tickSize":2,"domain":false,"labelPadding":1}},"y":{"field":"p","type":"quantitative","scale":{"domain":[0.85,0.95],"range":[66.7,56.7]},"axis":null},"color":{"field":"st","type":"nominal","scale":{"domain":["6_TxW","2_TssA","11_Low","5_TxS"],"range":["#35A049","#FBA44F","#E0E0E0","#12A7E0"]},"legend":null}}},
{"data":{"values":[{"st":"12_Empty","n":37.58,"p":0.9}]},"mark":{"type":"point","filled":true,"opacity":1,"size":100,"color":"#000","shape":"M0,-1C0.55,-0.6 0.55,0.6 0,1C-0.55,0.6 -0.55,-0.6 0,-1Z"},"encoding":{"x":{"field":"n","type":"quantitative","scale":{"domain":[37,38],"range":[471,499]},"axis":{"orient":"bottom","offset":-864,"values":[37,38],"format":"d","title":null,"labelFontSize":6.5,"tickSize":2,"domain":false,"labelPadding":1}},"y":{"field":"p","type":"quantitative","scale":{"domain":[0.85,0.95],"range":[66.7,56.7]},"axis":null}}},
{"data":{"values":[{"st":"3_EnhS","a":37.6,"b":38.75,"c":3.16},{"st":"7_TxT","a":37.6,"b":38.75,"c":3.86},{"st":"10_Het","a":37.6,"b":38.75,"c":4.58},{"st":"9_ReprPC","a":37.6,"b":38.75,"c":5.3},{"st":"4_EnhW","a":44.1,"b":45.2,"c":3.4},{"st":"1_TssF","a":44.1,"b":45.2,"c":4.1},{"st":"8_TssP","a":44.1,"b":45.2,"c":4.93},{"st":"6_TxW","a":52.1,"b":53.1,"c":3.2},{"st":"2_TssA","a":52.1,"b":53.1,"c":3.9},{"st":"11_Low","a":52.1,"b":53.1,"c":4.6},{"st":"5_TxS","a":52.1,"b":53.1,"c":5.3},{"st":"12_Empty","a":60.25,"b":61.25,"c":3.86}]},"mark":{"type":"rule","strokeWidth":1.4},"encoding":{"x":{"field":"a","type":"quantitative","scale":{"domain":[0,100],"range":[0,800]},"axis":null},"x2":{"field":"b"},"y":{"field":"c","type":"quantitative","scale":{"domain":[0,100],"range":[0,933]},"axis":null},"color":{"field":"st","type":"nominal","scale":{"domain":["1_TssF","2_TssA","3_EnhS","4_EnhW","5_TxS","6_TxW","7_TxT","8_TssP","9_ReprPC","10_Het","11_Low","12_Empty"],"range":["#F58220","#FBA44F","#D92027","#F26060","#12A7E0","#35A049","#AEDD95","#BBA48D","#6E543D","#4F4F4F","#E6E6E6","#000000"]},"legend":null}}},
{"data":{"values":[{"t":"3_EnhS","a":39.25,"c":3.16},{"t":"7_TxT","a":39.25,"c":3.86},{"t":"10_Het","a":39.25,"c":4.58},{"t":"9_ReprPC","a":39.25,"c":5.3},{"t":"4_EnhW","a":45.9,"c":3.4},{"t":"1_TssF","a":45.9,"c":4.1},{"t":"8_TssP","a":45.9,"c":4.93},{"t":"6_TxW","a":53.3,"c":3.2},{"t":"2_TssA","a":53.3,"c":3.9},{"t":"11_Low","a":53.3,"c":4.6},{"t":"5_TxS","a":53.3,"c":5.3},{"t":"12_Empty","a":59.2,"c":4.85}]},"mark":{"type":"text","align":"left","fontSize":5.8,"color":"#333"},"encoding":{"text":{"field":"t"},"x":{"field":"a","type":"quantitative","scale":{"domain":[0,100],"range":[0,800]},"axis":null},"y":{"field":"c","type":"quantitative","scale":{"domain":[0,100],"range":[0,933]},"axis":null}}},
{"data":{"values":[{"c0":0,"c1":20,"r0":0,"r1":1,"v":0.72},{"c0":0,"c1":1,"r0":0,"r1":1,"v":1},{"c0":0,"c1":1,"r0":1,"r1":20,"v":0.78},{"c0":1,"c1":4,"r0":1,"r1":4,"v":1},{"c0":4,"c1":20,"r0":1,"r1":4,"v":0.88},{"c0":1,"c1":4,"r0":4,"r1":20,"v":0.9},{"c0":4,"c1":20,"r0":4,"r1":20,"v":0.97},{"c0":20,"c1":25,"r0":0,"r1":1,"v":0.35},{"c0":25,"c1":27,"r0":0,"r1":1,"v":0.6},{"c0":27,"c1":38,"r0":0,"r1":1,"v":0.3},{"c0":20,"c1":21,"r0":1,"r1":20,"v":0.22},{"c0":21,"c1":25,"r0":1,"r1":20,"v":0.38},{"c0":25,"c1":26,"r0":1,"r1":20,"v":0.12},{"c0":26,"c1":38,"r0":1,"r1":3,"v":0.07},{"c0":26,"c1":38,"r0":3,"r1":20,"v":0.02},{"c0":0,"c1":6,"r0":20,"r1":25,"v":0.36},{"c0":6,"c1":14,"r0":20,"r1":25,"v":0.45},{"c0":14,"c1":20,"r0":20,"r1":25,"v":0.4},{"c0":0,"c1":20,"r0":25,"r1":26,"v":0.03},{"c0":0,"c1":20,"r0":26,"r1":27,"v":0.14},{"c0":0,"c1":1,"r0":27,"r1":38,"v":0.25},{"c0":1,"c1":2,"r0":27,"r1":38,"v":0.1},{"c0":2,"c1":20,"r0":27,"r1":38,"v":0.02},{"c0":20,"c1":25,"r0":20,"r1":25,"v":1},{"c0":25,"c1":26,"r0":20,"r1":25,"v":0.72},{"c0":26,"c1":38,"r0":20,"r1":25,"v":0.55},{"c0":20,"c1":21,"r0":25,"r1":38,"v":0.38},{"c0":21,"c1":25,"r0":25,"r1":38,"v":0.5},{"c0":25,"c1":38,"r0":25,"r1":38,"v":0.98},{"c0":25,"c1":26,"r0":26,"r1":38,"v":0.9}]},"mark":"rect","encoding":{"x":{"field":"c0","type":"quantitative","scale":{"domain":[0,38],"range":[549,734.3]},"axis":null},"x2":{"field":"c1"},"y":{"field":"r0","type":"quantitative","scale":{"domain":[0,38],"range":[57.3,256]},"axis":null},"y2":{"field":"r1"},"color":{"field":"v","type":"quantitative","scale":{"domain":[0,1],"range":["#F9F9F1","#1B72B2"],"interpolate":"rgb"},"legend":{"orient":"none","legendX":546,"legendY":37,"direction":"horizontal","titleOrient":"left","title":"Consensus value","titleFontSize":10.5,"titlePadding":6,"gradientLength":70,"gradientThickness":5,"values":[0,1],"format":".0f","labelFontSize":9}}}},
{"data":{"values":[{"h":1,"h2":1,"s":3.4,"s2":25.4},{"h":1,"h2":0.134,"s":3.4,"s2":3.4},{"h":0.134,"h2":0.134,"s":0.5,"s2":5.7},{"h":0.134,"h2":0,"s":0.5,"s2":0.5},{"h":0.134,"h2":0,"s":5.7,"s2":5.7},{"h":1,"h2":0.327,"s":25.4,"s2":25.4},{"h":0.327,"h2":0.327,"s":22.7,"s2":28},{"h":0.327,"h2":0,"s":22.7,"s2":22.7},{"h":0.327,"h2":0.22,"s":28,"s2":28},{"h":0.22,"h2":0.22,"s":26,"s2":34},{"h":0.22,"h2":0,"s":26,"s2":26},{"h":0.22,"h2":0.1,"s":34,"s2":34},{"h":0.1,"h2":0.1,"s":27,"s2":37.5},{"h":0.1,"h2":0,"s":27,"s2":27},{"h":0.1,"h2":0,"s":29,"s2":29},{"h":0.1,"h2":0,"s":31,"s2":31},{"h":0.1,"h2":0,"s":33,"s2":33},{"h":0.1,"h2":0,"s":35,"s2":35},{"h":0.1,"h2":0,"s":37,"s2":37}]},"mark":{"type":"rule","color":"#999","strokeWidth":0.8},"encoding":{"x":{"field":"h","type":"quantitative","scale":{"domain":[1,0],"range":[526.7,549]},"axis":null},"x2":{"field":"h2"},"y":{"field":"s","type":"quantitative","scale":{"domain":[0,38],"range":[57.3,256]},"axis":null},"y2":{"field":"s2"}}},
{"data":{"name":"sil","values":[{"s":0.5,"w":0.5,"k":"C2"},{"s":1.5,"w":0.91,"k":"C2"},{"s":2.5,"w":0.97,"k":"C2"},{"s":3.5,"w":0.98,"k":"C2"},{"s":4.5,"w":0.98,"k":"C2"},{"s":5.5,"w":0.98,"k":"C2"},{"s":6.5,"w":0.99,"k":"C2"},{"s":7.5,"w":0.99,"k":"C2"},{"s":8.5,"w":0.99,"k":"C2"},{"s":9.5,"w":0.99,"k":"C2"},{"s":10.5,"w":0.99,"k":"C2"},{"s":11.5,"w":0.99,"k":"C2"},{"s":12.5,"w":0.99,"k":"C2"},{"s":13.5,"w":0.99,"k":"C2"},{"s":14.5,"w":0.99,"k":"C2"},{"s":15.5,"w":0.99,"k":"C2"},{"s":16.5,"w":0.99,"k":"C2"},{"s":17.5,"w":0.99,"k":"C2"},{"s":18.5,"w":0.99,"k":"C2"},{"s":19.5,"w":0.98,"k":"C2"},{"s":20.5,"w":0.59,"k":"C1"},{"s":21.5,"w":0.45,"k":"C1"},{"s":22.5,"w":0.44,"k":"C1"},{"s":23.5,"w":0.36,"k":"C1"},{"s":24.5,"w":0.27,"k":"C1"},{"s":25.5,"w":0.85,"k":"C1"},{"s":26.5,"w":0.81,"k":"C1"},{"s":27.5,"w":0.84,"k":"C1"},{"s":28.5,"w":0.85,"k":"C1"},{"s":29.5,"w":0.85,"k":"C1"},{"s":30.5,"w":0.85,"k":"C1"},{"s":31.5,"w":0.85,"k":"C1"},{"s":32.5,"w":0.85,"k":"C1"},{"s":33.5,"w":0.85,"k":"C1"},{"s":34.5,"w":0.85,"k":"C1"},{"s":35.5,"w":0.85,"k":"C1"},{"s":36.5,"w":0.85,"k":"C1"},{"s":37.5,"w":0.85,"k":"C1"}]},"mark":{"type":"rule","strokeDash":[2,1.5],"strokeWidth":0.7},"encoding":{"x":{"field":"w","type":"quantitative","scale":{"domain":[0,1],"range":[741.3,767.5]},"axis":{"orient":"top","offset":-52.7,"values":[0,1],"format":".1f","title":"Silhouette width","titleFontSize":8.5,"labelFontSize":8.5,"titlePadding":1,"domain":false}},"x2":{"datum":0},"y":{"field":"s","type":"quantitative","scale":{"domain":[0,38],"range":[57.3,256]},"axis":null},"color":{"field":"k","type":"nominal","scale":{"domain":["C1","C2"],"range":["#3F7FC0","#F26060"]},"legend":null}}},
{"data":{"name":"sil"},"mark":{"type":"line","color":"#777","strokeWidth":0.7},"encoding":{"x":{"field":"w","type":"quantitative","scale":{"domain":[0,1],"range":[741.3,767.5]},"axis":null},"y":{"field":"s","type":"quantitative","scale":{"domain":[0,38],"range":[57.3,256]},"axis":null},"order":{"field":"s"}}},
{"data":{"name":"sil"},"mark":{"type":"point","filled":true,"opacity":1,"size":6},"encoding":{"x":{"field":"w","type":"quantitative","scale":{"domain":[0,1],"range":[741.3,767.5]},"axis":null},"y":{"field":"s","type":"quantitative","scale":{"domain":[0,38],"range":[57.3,256]},"axis":null},"color":{"field":"k","type":"nominal","scale":{"domain":["C1","C2"],"range":["#3F7FC0","#F26060"]},"legend":null}}},
{"data":{"values":[{"w":0.5,"a":0,"b":38}]},"mark":{"type":"rule","color":"#777","strokeDash":[1,1.5],"strokeWidth":0.6},"encoding":{"x":{"field":"w","type":"quantitative","scale":{"domain":[0,1],"range":[741.3,767.5]},"axis":null},"y":{"field":"a","type":"quantitative","scale":{"domain":[0,38],"range":[57.3,256]},"axis":null},"y2":{"field":"b"}}},
{"data":{"name":"merges"},"mark":{"type":"rule","strokeWidth":1.4},"encoding":{"x":{"field":"a","type":"quantitative","scale":{"domain":[0,37],"range":[81,462.7]},"axis":null},"x2":{"field":"b"},"y":{"field":"h","type":"quantitative","scale":{"domain":[0,1],"range":[535,355]},"axis":null},"color":{"field":"k","type":"nominal","scale":{"domain":["b","r","x"],"range":["#4A7FC0","#F26D6D","#222222"]},"legend":null}}},
{"data":{"name":"merges"},"mark":{"type":"rule","strokeWidth":1.4},"encoding":{"x":{"field":"a","type":"quantitative","scale":{"domain":[0,37],"range":[81,462.7]},"axis":null},"y":{"field":"ha","type":"quantitative","scale":{"domain":[0,1],"range":[535,355]},"axis":null},"y2":{"field":"h"},"color":{"field":"k","type":"nominal","scale":{"domain":["b","r","x"],"range":["#4A7FC0","#F26D6D","#222222"]},"legend":null}}},
{"data":{"name":"merges"},"mark":{"type":"rule","strokeWidth":1.4},"encoding":{"x":{"field":"b","type":"quantitative","scale":{"domain":[0,37],"range":[81,462.7]},"axis":null},"y":{"field":"hb","type":"quantitative","scale":{"domain":[0,1],"range":[535,355]},"axis":null},"y2":{"field":"h"},"color":{"field":"k","type":"nominal","scale":{"domain":["b","r","x"],"range":["#4A7FC0","#F26D6D","#222222"]},"legend":null}}},
{"data":{"name":"merges"},"mark":{"type":"text","fontSize":6,"color":"#F0323C","dx":-6.5,"dy":-3.5},"encoding":{"text":{"field":"au"},"x":{"field":"m","type":"quantitative","scale":{"domain":[0,37],"range":[81,462.7]},"axis":null},"y":{"field":"h","type":"quantitative","scale":{"domain":[0,1],"range":[535,355]},"axis":null}}},
{"data":{"name":"merges"},"mark":{"type":"text","fontSize":6,"color":"#2FD02F","dx":6.5,"dy":-3.5},"encoding":{"text":{"field":"bp"},"x":{"field":"m","type":"quantitative","scale":{"domain":[0,37],"range":[81,462.7]},"axis":null},"y":{"field":"h","type":"quantitative","scale":{"domain":[0,1],"range":[535,355]},"axis":null}}},
{"data":{"values":[{"k":"K=2","i":0,"c":"lb"},{"k":"K=2","i":1,"c":"lb"},{"k":"K=2","i":2,"c":"lb"},{"k":"K=2","i":3,"c":"lb"},{"k":"K=2","i":4,"c":"lb"},{"k":"K=2","i":5,"c":"lb"},{"k":"K=2","i":6,"c":"lb"},{"k":"K=2","i":7,"c":"lb"},{"k":"K=2","i":8,"c":"lb"},{"k":"K=2","i":9,"c":"lb"},{"k":"K=2","i":10,"c":"lb"},{"k":"K=2","i":11,"c":"lb"},{"k":"K=2","i":12,"c":"lb"},{"k":"K=2","i":13,"c":"lb"},{"k":"K=2","i":14,"c":"lb"},{"k":"K=2","i":15,"c":"lb"},{"k":"K=2","i":16,"c":"lb"},{"k":"K=2","i":17,"c":"lb"},{"k":"K=2","i":18,"c":"db"},{"k":"K=2","i":19,"c":"db"},{"k":"K=2","i":20,"c":"db"},{"k":"K=2","i":21,"c":"db"},{"k":"K=2","i":22,"c":"db"},{"k":"K=2","i":23,"c":"db"},{"k":"K=2","i":24,"c":"db"},{"k":"K=2","i":25,"c":"db"},{"k":"K=2","i":26,"c":"db"},{"k":"K=2","i":27,"c":"db"},{"k":"K=2","i":28,"c":"db"},{"k":"K=2","i":29,"c":"db"},{"k":"K=2","i":30,"c":"db"},{"k":"K=2","i":31,"c":"db"},{"k":"K=2","i":32,"c":"db"},{"k":"K=2","i":33,"c":"db"},{"k":"K=2","i":34,"c":"db"},{"k":"K=2","i":35,"c":"db"},{"k":"K=2","i":36,"c":"db"},{"k":"K=2","i":37,"c":"db"},
{"k":"K=3","i":0,"c":"lb"},{"k":"K=3","i":1,"c":"lb"},{"k":"K=3","i":2,"c":"lb"},{"k":"K=3","i":3,"c":"lb"},{"k":"K=3","i":4,"c":"lb"},{"k":"K=3","i":5,"c":"lb"},{"k":"K=3","i":6,"c":"lb"},{"k":"K=3","i":7,"c":"lb"},{"k":"K=3","i":8,"c":"lb"},{"k":"K=3","i":9,"c":"lb"},{"k":"K=3","i":10,"c":"lb"},{"k":"K=3","i":11,"c":"lb"},{"k":"K=3","i":12,"c":"lb"},{"k":"K=3","i":13,"c":"lb"},{"k":"K=3","i":14,"c":"lb"},{"k":"K=3","i":15,"c":"lb"},{"k":"K=3","i":16,"c":"lb"},{"k":"K=3","i":17,"c":"lb"},{"k":"K=3","i":18,"c":"lg"},{"k":"K=3","i":19,"c":"lg"},{"k":"K=3","i":20,"c":"lg"},{"k":"K=3","i":21,"c":"lg"},{"k":"K=3","i":22,"c":"lg"},{"k":"K=3","i":23,"c":"lg"},{"k":"K=3","i":24,"c":"lg"},{"k":"K=3","i":25,"c":"db"},{"k":"K=3","i":26,"c":"db"},{"k":"K=3","i":27,"c":"db"},{"k":"K=3","i":28,"c":"db"},{"k":"K=3","i":29,"c":"db"},{"k":"K=3","i":30,"c":"db"},{"k":"K=3","i":31,"c":"db"},{"k":"K=3","i":32,"c":"db"},{"k":"K=3","i":33,"c":"db"},{"k":"K=3","i":34,"c":"db"},{"k":"K=3","i":35,"c":"db"},{"k":"K=3","i":36,"c":"db"},{"k":"K=3","i":37,"c":"db"},
{"k":"K=4","i":0,"c":"dg"},{"k":"K=4","i":1,"c":"dg"},{"k":"K=4","i":2,"c":"dg"},{"k":"K=4","i":3,"c":"dg"},{"k":"K=4","i":4,"c":"dg"},{"k":"K=4","i":5,"c":"lb"},{"k":"K=4","i":6,"c":"lb"},{"k":"K=4","i":7,"c":"lb"},{"k":"K=4","i":8,"c":"lb"},{"k":"K=4","i":9,"c":"lb"},{"k":"K=4","i":10,"c":"lb"},{"k":"K=4","i":11,"c":"lb"},{"k":"K=4","i":12,"c":"lb"},{"k":"K=4","i":13,"c":"lb"},{"k":"K=4","i":14,"c":"lb"},{"k":"K=4","i":15,"c":"lb"},{"k":"K=4","i":16,"c":"lb"},{"k":"K=4","i":17,"c":"lb"},{"k":"K=4","i":18,"c":"lg"},{"k":"K=4","i":19,"c":"lg"},{"k":"K=4","i":20,"c":"lg"},{"k":"K=4","i":21,"c":"lg"},{"k":"K=4","i":22,"c":"lg"},{"k":"K=4","i":23,"c":"lg"},{"k":"K=4","i":24,"c":"lg"},{"k":"K=4","i":25,"c":"db"},{"k":"K=4","i":26,"c":"db"},{"k":"K=4","i":27,"c":"db"},{"k":"K=4","i":28,"c":"db"},{"k":"K=4","i":29,"c":"db"},{"k":"K=4","i":30,"c":"db"},{"k":"K=4","i":31,"c":"db"},{"k":"K=4","i":32,"c":"db"},{"k":"K=4","i":33,"c":"db"},{"k":"K=4","i":34,"c":"db"},{"k":"K=4","i":35,"c":"db"},{"k":"K=4","i":36,"c":"db"},{"k":"K=4","i":37,"c":"db"}]},"mark":{"type":"circle","size":72,"opacity":1},"encoding":{"x":{"field":"i","type":"quantitative","scale":{"domain":[0,37],"range":[81,462.7]},"axis":null},"y":{"field":"k","type":"nominal","scale":{"type":"point","domain":["K=2","K=3","K=4"],"range":[546,575],"padding":0},"axis":{"orient":"left","offset":-56,"title":null,"labelFontSize":12,"ticks":false,"domain":false,"labelColor":"#111","labelPadding":2}},"color":{"field":"c","type":"nominal","scale":{"domain":["lb","db","lg","dg"],"range":["#A6CEE3","#1F78B4","#B2DF8A","#33A02C"]},"legend":null}}},
{"data":{"values":[{"x":-0.6,"y":1.75},{"x":-0.56,"y":2.5},{"x":-0.52,"y":3.1},{"x":-0.48,"y":3.8},{"x":-0.44,"y":4.5},{"x":-0.4,"y":5},{"x":-0.36,"y":5.4},{"x":-0.32,"y":5.7},{"x":-0.28,"y":5.9},{"x":-0.24,"y":6},{"x":-0.2,"y":6},{"x":-0.165,"y":5.8},{"x":-0.145,"y":3}]},"mark":{"type":"area","color":"#3F7FC0"},"encoding":{"x":{"field":"x","type":"quantitative","scale":{"domain":[-1.09,1.1],"range":[562.7,696.7]},"axis":null},"y":{"field":"y","type":"quantitative","scale":{"domain":[-0.58,12.87],"range":[455.3,316]},"axis":null},"y2":{"datum":1.7}}},
{"data":{"values":[{"x":-0.32,"y":12.24},{"x":-0.34,"y":11.2},{"x":-0.855,"y":10.24},{"x":-0.71,"y":9.66},{"x":-0.42,"y":10.3},{"x":-0.48,"y":10.08},{"x":-0.52,"y":9.82},{"x":-0.45,"y":9.6},{"x":-0.52,"y":9.44},{"x":-0.53,"y":9},{"x":-0.52,"y":8.56},{"x":-0.3,"y":9.1},{"x":-0.33,"y":8.9},{"x":-0.34,"y":8.7},{"x":-0.32,"y":8.3},{"x":-0.21,"y":8.2},{"x":-0.29,"y":8.2},{"x":-0.36,"y":8.5},{"x":-0.615,"y":7.5},{"x":-0.6,"y":7.27},{"x":-0.577,"y":7},{"x":-0.83,"y":6.76},{"x":-0.436,"y":7.76},{"x":-0.4,"y":7.5},{"x":-0.34,"y":7.34},{"x":-0.48,"y":7.18},{"x":-0.29,"y":7.18},{"x":-0.234,"y":7.08},{"x":-0.545,"y":6.37},{"x":-0.56,"y":6.3},{"x":-0.4,"y":6.7},{"x":-0.34,"y":6.53},{"x":-0.83,"y":5.89},{"x":-0.83,"y":5.66},{"x":-0.74,"y":5.89},{"x":-0.63,"y":5.66},{"x":-0.59,"y":5.73},{"x":-0.9,"y":5},{"x":-0.82,"y":4.76},{"x":-0.72,"y":4.53},{"x":-0.66,"y":4.85},{"x":-0.64,"y":3.73},{"x":-0.7,"y":2.66},{"x":-0.9,"y":2.73},{"x":-0.96,"y":2.6},{"x":-0.89,"y":2.44},{"x":-0.56,"y":5.4},{"x":-0.61,"y":5.24},{"x":-0.52,"y":5.1},{"x":-0.57,"y":4.8},{"x":-0.55,"y":4.6},{"x":-0.6,"y":4.2},{"x":-0.53,"y":4},{"x":-0.6,"y":3.5},{"x":-0.62,"y":3},{"x":-0.55,"y":3.2},{"x":-0.2,"y":7},{"x":-0.22,"y":6.8},{"x":-0.19,"y":6.5},{"x":-0.25,"y":6.6},{"x":-0.27,"y":6.4},{"x":-0.3,"y":6.3},{"x":-0.24,"y":6.2},{"x":-0.17,"y":6},{"x":-0.16,"y":5.9},{"x":-0.33,"y":6.1},{"x":-0.36,"y":6},{"x":-0.38,"y":5.9},{"x":-0.41,"y":5.8},{"x":-0.44,"y":5.7},{"x":-0.47,"y":5.6},{"x":-0.5,"y":5.6},{"x":-0.53,"y":5.65},{"x":-0.55,"y":5.3},{"x":-0.58,"y":5.5},{"x":-0.45,"y":5.2},{"x":-0.5,"y":4.9},{"x":-0.56,"y":4.4},{"x":-0.6,"y":4.9},{"x":-0.52,"y":4.4},{"x":-0.47,"y":4.6},{"x":-0.62,"y":4.4},{"x":-0.58,"y":3.9},{"x":-0.55,"y":3.6},{"x":-0.65,"y":3.3},{"x":-0.6,"y":2.9},{"x":-0.58,"y":2.4},{"x":-0.62,"y":2.1},{"x":-0.56,"y":2},{"x":-0.6,"y":1.9},{"x":-0.52,"y":3.5},{"x":-0.48,"y":3.9},{"x":-0.145,"y":4},{"x":-0.14,"y":3.2},{"x":-0.15,"y":2.4},{"x":-0.14,"y":1.9},{"x":-0.4,"y":1.65},{"x":-0.3,"y":1.65},{"x":-0.2,"y":1.65},{"x":-0.5,"y":1.65}]},"mark":{"type":"circle","size":9,"color":"#3F7FC0","opacity":0.75},"encoding":{"x":{"field":"x","type":"quantitative","scale":{"domain":[-1.09,1.1],"range":[562.7,696.7]},"axis":{"orient":"bottom","offset":-477.7,"values":[-1,-0.5,0,0.5,1],"format":".1f","title":"Differential methylation levels","titleFontSize":12,"titlePadding":2,"labelFontSize":7.5}},"y":{"field":"y","type":"quantitative","scale":{"domain":[-0.58,12.87],"range":[455.3,316]},"axis":{"orient":"left","offset":-562.7,"values":[0,2.5,5,7.5,10,12.5],"format":".1f","title":"-Log₁₀ (p-value)","titleFontSize":12,"titlePadding":1,"labelFontSize":7.5}}}},
{"data":{"values":[{"x":0.626,"y":6.13},{"x":0.65,"y":5.97},{"x":0.4,"y":4.94},{"x":0.458,"y":4.84},{"x":0.245,"y":4.16},{"x":0.2,"y":3.97},{"x":0.26,"y":3.8},{"x":0.29,"y":3.65},{"x":0.42,"y":3.87},{"x":0.33,"y":3.48},{"x":0.64,"y":3.8},{"x":0.58,"y":3.48},{"x":0.47,"y":3.3},{"x":0.6,"y":3.1},{"x":0.556,"y":2.94},{"x":0.51,"y":2.84},{"x":0.28,"y":3.3},{"x":0.23,"y":2.9},{"x":0.17,"y":2.84},{"x":0.2,"y":2.5},{"x":0.85,"y":2.45},{"x":0.18,"y":2.6},{"x":0.16,"y":2.2},{"x":0.2,"y":1.9},{"x":0.22,"y":2.2},{"x":0.25,"y":2.6},{"x":0.25,"y":2},{"x":0.27,"y":1.8},{"x":0.28,"y":2.3},{"x":0.3,"y":1.9},{"x":0.3,"y":2.6},{"x":0.32,"y":2.1},{"x":0.33,"y":1.8},{"x":0.34,"y":2.4},{"x":0.35,"y":2.8},{"x":0.36,"y":2},{"x":0.37,"y":2.6},{"x":0.38,"y":1.75},{"x":0.38,"y":2.3},{"x":0.4,"y":2},{"x":0.4,"y":2.7},{"x":0.42,"y":1.9},{"x":0.42,"y":2.4},{"x":0.44,"y":2.2},{"x":0.44,"y":1.8},{"x":0.46,"y":2},{"x":0.46,"y":2.6},{"x":0.48,"y":1.8},{"x":0.33,"y":3},{"x":0.36,"y":3.1},{"x":0.31,"y":2.85}]},"mark":{"type":"circle","size":9,"color":"#F26060","opacity":0.8},"encoding":{"x":{"field":"x","type":"quantitative","scale":{"domain":[-1.09,1.1],"range":[562.7,696.7]},"axis":null},"y":{"field":"y","type":"quantitative","scale":{"domain":[-0.58,12.87],"range":[455.3,316]},"axis":null}}},
{"data":{"values":[{"x":0,"x2":0,"y":-0.58,"y2":12.87},{"x":-1.09,"x2":1.1,"y":0,"y2":0}]},"mark":{"type":"rule","color":"#333","strokeWidth":0.9},"encoding":{"x":{"field":"x","type":"quantitative","scale":{"domain":[-1.09,1.1],"range":[562.7,696.7]},"axis":null},"x2":{"field":"x2"},"y":{"field":"y","type":"quantitative","scale":{"domain":[-0.58,12.87],"range":[455.3,316]},"axis":null},"y2":{"field":"y2"}}},
{"data":{"values":[{"x":-1,"y":-0.58,"y2":12.87},{"x":1,"y":-0.58,"y2":12.87}]},"mark":{"type":"rule","color":"#333","strokeWidth":0.8,"strokeDash":[3,2.5]},"encoding":{"x":{"field":"x","type":"quantitative","scale":{"domain":[-1.09,1.1],"range":[562.7,696.7]},"axis":null},"y":{"field":"y","type":"quantitative","scale":{"domain":[-0.58,12.87],"range":[455.3,316]},"axis":null},"y2":{"field":"y2"}}},
{"data":{"values":[{"y":0,"a":0,"b":1},{"y":0.25,"a":0,"b":1},{"y":0.5,"a":0,"b":1},{"y":0.75,"a":0,"b":1},{"y":1,"a":0,"b":1}]},"mark":{"type":"rule","color":"#EEEEEE","strokeWidth":0.8},"encoding":{"x":{"field":"a","type":"quantitative","scale":{"domain":[0,1],"range":[514.7,614.3]},"axis":null},"x2":{"field":"b"},"y":{"field":"y","type":"quantitative","scale":{"domain":[0,1],"range":[618.3,502.7]},"axis":null}}},
{"data":{"name":"lolL","values":[{"g":"FGF10","s":"C1","v":0.465},{"g":"FGF10","s":"C2","v":0.13},{"g":"CDH2","s":"C1","v":0.54},{"g":"CDH2","s":"C2","v":0.035},{"g":"HOXA9","s":"C1","v":0.925},{"g":"HOXA9","s":"C2","v":0.62}]},"mark":{"type":"rule","color":"#CFCFCF","strokeWidth":2.8},"encoding":{"x":{"field":"g","type":"nominal","scale":{"type":"point","domain":["FGF10","CDH2","HOXA9"],"range":[533.3,596],"padding":0},"axis":{"orient":"bottom","offset":-309,"title":null,"labelAngle":0,"labelFontSize":8,"labelFontStyle":"italic","labelColor":"#111","domain":false}},"y":{"aggregate":"max","field":"v","type":"quantitative","scale":{"domain":[0,1],"range":[618.3,502.7]},"axis":{"orient":"left","offset":-514.7,"values":[0,0.25,0.5,0.75,1],"format":".2f","title":"Average methylation levels","titleFontSize":11,"titlePadding":1,"labelFontSize":7.5,"domain":false}},"y2":{"datum":0}}},
{"data":{"name":"lolL"},"mark":{"type":"circle","size":62,"opacity":1},"encoding":{"x":{"field":"g","type":"nominal","scale":{"type":"point","domain":["FGF10","CDH2","HOXA9"],"range":[533.3,596],"padding":0},"axis":null},"y":{"field":"v","type":"quantitative","scale":{"domain":[0,1],"range":[618.3,502.7]},"axis":null},"color":{"field":"s","type":"nominal","scale":{"domain":["C1","C2"],"range":["#3F7FC0","#F26060"]},"legend":{"orient":"none","legendX":533,"legendY":501,"title":"Subtype","titleFontSize":7.5,"labelFontSize":7.5,"symbolSize":32,"rowPadding":3}}}},
{"data":{"values":[{"y":0,"a":0,"b":1},{"y":0.25,"a":0,"b":1},{"y":0.5,"a":0,"b":1},{"y":0.75,"a":0,"b":1},{"y":1,"a":0,"b":1}]},"mark":{"type":"rule","color":"#EEEEEE","strokeWidth":0.8},"encoding":{"x":{"field":"a","type":"quantitative","scale":{"domain":[0,1],"range":[668.3,768.7]},"axis":null},"x2":{"field":"b"},"y":{"field":"y","type":"quantitative","scale":{"domain":[0,1],"range":[617.7,505]},"axis":null}}},
{"data":{"name":"lolR","values":[{"g":"BTN3A2","s":"C1","v":0.495},{"g":"BTN3A2","s":"C2","v":0.91},{"g":"TNF","s":"C1","v":0.595},{"g":"TNF","s":"C2","v":0.81},{"g":"GRAP2","s":"C1","v":0.775},{"g":"GRAP2","s":"C2","v":0.89}]},"mark":{"type":"rule","color":"#CFCFCF","strokeWidth":2.8},"encoding":{"x":{"field":"g","type":"nominal","scale":{"type":"point","domain":["BTN3A2","TNF","GRAP2"],"range":[687,750],"padding":0},"axis":{"orient":"bottom","offset":-309,"title":null,"labelAngle":0,"labelFontSize":8,"labelFontStyle":"italic","labelColor":"#111","domain":false}},"y":{"aggregate":"max","field":"v","type":"quantitative","scale":{"domain":[0,1],"range":[617.7,505]},"axis":{"orient":"left","offset":-668.3,"values":[0,0.25,0.5,0.75,1],"format":".2f","title":"Average methylation levels","titleFontSize":11,"titlePadding":1,"labelFontSize":7.5,"domain":false}},"y2":{"datum":0}}},
{"data":{"name":"lolR"},"mark":{"type":"circle","size":62,"opacity":1},"encoding":{"x":{"field":"g","type":"nominal","scale":{"type":"point","domain":["BTN3A2","TNF","GRAP2"],"range":[687,750],"padding":0},"axis":null},"y":{"field":"v","type":"quantitative","scale":{"domain":[0,1],"range":[617.7,505]},"axis":null},"color":{"field":"s","type":"nominal","scale":{"domain":["C1","C2"],"range":["#3F7FC0","#F26060"]},"legend":null}}},
{"data":{"values":[{"r":1,"u":0,"e":1,"c":"EC1"},{"r":1,"u":1,"e":2,"c":"EC1"},{"r":1,"u":2,"e":3,"c":"EC1"},{"r":1,"u":3,"e":4,"c":"EC1"},{"r":1,"u":4,"e":5,"c":"EC1"},{"r":1,"u":5,"e":6,"c":"EC1"},{"r":1,"u":6,"e":7,"c":"EC1"},{"r":1,"u":7,"e":8,"c":"EC1"},{"r":1,"u":8,"e":9,"c":"EC1"},{"r":1,"u":9,"e":10,"c":"EC1"},{"r":1,"u":10,"e":11,"c":"EC1"},{"r":1,"u":11,"e":12,"c":"EC1"},{"r":1,"u":12,"e":13,"c":"EC1"},{"r":1,"u":13,"e":14,"c":"EC1"},{"r":1,"u":14,"e":15,"c":"EC1"},{"r":1,"u":15,"e":16,"c":"EC1"},{"r":1,"u":16,"e":17,"c":"EC1"},{"r":1,"u":17,"e":18,"c":"EC1"},
{"r":1,"u":21,"e":22,"c":"EC2"},{"r":1,"u":22,"e":23,"c":"EC2"},{"r":1,"u":23,"e":24,"c":"EC2"},{"r":1,"u":24,"e":25,"c":"EC2"},{"r":1,"u":25,"e":26,"c":"EC2"},{"r":1,"u":26,"e":27,"c":"EC2"},{"r":1,"u":27,"e":28,"c":"EC2"},{"r":1,"u":28,"e":29,"c":"EC2"},{"r":1,"u":29,"e":30,"c":"EC2"},{"r":1,"u":30,"e":31,"c":"EC2"},{"r":1,"u":31,"e":32,"c":"EC2"},{"r":1,"u":32,"e":33,"c":"EC2"},{"r":1,"u":33,"e":34,"c":"EC2"},{"r":1,"u":34,"e":35,"c":"EC2"},{"r":1,"u":35,"e":36,"c":"EC2"},{"r":1,"u":36,"e":37,"c":"EC2"},{"r":1,"u":37,"e":38,"c":"EC2"},{"r":1,"u":38,"e":39,"c":"EC2"},{"r":1,"u":39,"e":40,"c":"EC2"},{"r":1,"u":40,"e":41,"c":"EC2"},
{"r":2,"u":0,"e":1,"c":"RC1"},{"r":2,"u":1,"e":2,"c":"RC1"},{"r":2,"u":2,"e":3,"c":"RC1"},{"r":2,"u":3,"e":4,"c":"RC1"},{"r":2,"u":4,"e":5,"c":"RC1"},{"r":2,"u":5,"e":6,"c":"RC1"},{"r":2,"u":6,"e":7,"c":"RC1"},{"r":2,"u":7,"e":8,"c":"RC1"},{"r":2,"u":8,"e":9,"c":"RC1"},{"r":2,"u":9,"e":10,"c":"RC1"},{"r":2,"u":10,"e":11,"c":"RC1"},{"r":2,"u":11,"e":12,"c":"RC1"},{"r":2,"u":12,"e":13,"c":"RC1"},{"r":2,"u":13,"e":14,"c":"RC1"},{"r":2,"u":14,"e":15,"c":"RC1"},{"r":2,"u":15,"e":16,"c":"RC1"},{"r":2,"u":16,"e":17,"c":"RC1"},{"r":2,"u":17,"e":18,"c":"RC1"},
{"r":2,"u":21,"e":22,"c":"RC2"},{"r":2,"u":22,"e":23,"c":"RC2"},{"r":2,"u":23,"e":24,"c":"RC2"},{"r":2,"u":24,"e":25,"c":"RC2"},{"r":2,"u":25,"e":26,"c":"RC2"},{"r":2,"u":26,"e":27,"c":"RC2"},{"r":2,"u":27,"e":28,"c":"RC2"},{"r":2,"u":28,"e":29,"c":"RC2"},{"r":2,"u":29,"e":30,"c":"RC2"},{"r":2,"u":30,"e":31,"c":"RC2"},{"r":2,"u":31,"e":32,"c":"RC2"},{"r":2,"u":32,"e":33,"c":"RC2"},{"r":2,"u":33,"e":34,"c":"RC2"},{"r":2,"u":34,"e":35,"c":"RC2"},{"r":2,"u":35,"e":36,"c":"RC2"},{"r":2,"u":36,"e":37,"c":"RC2"},{"r":2,"u":37,"e":38,"c":"RC2"},{"r":2,"u":38,"e":39,"c":"RC2"},{"r":2,"u":39,"e":40,"c":"RC2"},{"r":2,"u":40,"e":41,"c":"RC1"},
{"r":3,"u":0,"e":1,"c":"HC3"},{"r":3,"u":1,"e":2,"c":"HC2"},{"r":3,"u":2,"e":3,"c":"HC3"},{"r":3,"u":3,"e":4,"c":"HC1"},{"r":3,"u":4,"e":5,"c":"HC1"},{"r":3,"u":5,"e":6,"c":"HC1"},{"r":3,"u":6,"e":7,"c":"HC3"},{"r":3,"u":7,"e":8,"c":"HC3"},{"r":3,"u":8,"e":9,"c":"HC1"},{"r":3,"u":9,"e":10,"c":"HC3"},{"r":3,"u":10,"e":11,"c":"HC3"},{"r":3,"u":11,"e":12,"c":"TC3"},{"r":3,"u":12,"e":13,"c":"HC2"},{"r":3,"u":13,"e":14,"c":"TC2"},{"r":3,"u":14,"e":15,"c":"HC2"},{"r":3,"u":15,"e":16,"c":"HC2"},{"r":3,"u":16,"e":17,"c":"HC2"},{"r":3,"u":17,"e":18,"c":"HC2"},
{"r":3,"u":21,"e":22,"c":"HC1"},{"r":3,"u":22,"e":23,"c":"HC3"},{"r":3,"u":23,"e":24,"c":"HC3"},{"r":3,"u":24,"e":25,"c":"HC4"},{"r":3,"u":25,"e":26,"c":"HC3"},{"r":3,"u":26,"e":27,"c":"HC1"},{"r":3,"u":27,"e":28,"c":"HC1"},{"r":3,"u":28,"e":29,"c":"HC1"},{"r":3,"u":29,"e":30,"c":"HC3"},{"r":3,"u":30,"e":31,"c":"HC3"},{"r":3,"u":31,"e":32,"c":"HC2"},{"r":3,"u":32,"e":33,"c":"HC3"},{"r":3,"u":33,"e":34,"c":"HC3"},{"r":3,"u":34,"e":35,"c":"HC1"},{"r":3,"u":35,"e":36,"c":"HC1"},{"r":3,"u":36,"e":37,"c":"HC1"},{"r":3,"u":37,"e":38,"c":"HC1"},{"r":3,"u":38,"e":39,"c":"HC4"},{"r":3,"u":39,"e":40,"c":"HC4"},{"r":3,"u":40,"e":41,"c":"HC3"},
{"r":4,"u":0,"e":1,"c":"TC4"},{"r":4,"u":1,"e":2,"c":"TC1"},{"r":4,"u":2,"e":3,"c":"TC4"},{"r":4,"u":3,"e":4,"c":"TC1"},{"r":4,"u":4,"e":5,"c":"TC1"},{"r":4,"u":5,"e":6,"c":"TC4"},{"r":4,"u":6,"e":7,"c":"TC1"},{"r":4,"u":7,"e":8,"c":"TC1"},{"r":4,"u":8,"e":9,"c":"TC1"},{"r":4,"u":9,"e":10,"c":"TC4"},{"r":4,"u":10,"e":11,"c":"TC4"},{"r":4,"u":11,"e":12,"c":"TC4"},{"r":4,"u":12,"e":13,"c":"TC3"},{"r":4,"u":13,"e":14,"c":"TC2"},{"r":4,"u":14,"e":15,"c":"TC3"},{"r":4,"u":15,"e":16,"c":"TC3"},{"r":4,"u":16,"e":17,"c":"TC3"},{"r":4,"u":17,"e":18,"c":"TC3"},
{"r":4,"u":21,"e":22,"c":"TC4"},{"r":4,"u":22,"e":23,"c":"TC3"},{"r":4,"u":23,"e":24,"c":"TC3"},{"r":4,"u":24,"e":25,"c":"TC3"},{"r":4,"u":25,"e":26,"c":"TC4"},{"r":4,"u":26,"e":27,"c":"TC3"},{"r":4,"u":27,"e":28,"c":"TC4"},{"r":4,"u":28,"e":29,"c":"TC3"},{"r":4,"u":29,"e":30,"c":"TC4"},{"r":4,"u":30,"e":31,"c":"TC2"},{"r":4,"u":31,"e":32,"c":"TC2"},{"r":4,"u":32,"e":33,"c":"TC2"},{"r":4,"u":33,"e":34,"c":"TC2"},{"r":4,"u":34,"e":35,"c":"TC2"},{"r":4,"u":35,"e":36,"c":"TC2"},{"r":4,"u":36,"e":37,"c":"TC2"},{"r":4,"u":37,"e":38,"c":"TC4"},{"r":4,"u":38,"e":39,"c":"TC4"},{"r":4,"u":39,"e":40,"c":"TC4"},{"r":4,"u":40,"e":41,"c":"TC4"},
{"r":5,"u":0,"e":1,"c":"MC4"},{"r":5,"u":1,"e":2,"c":"MC1"},{"r":5,"u":2,"e":3,"c":"MC1"},{"r":5,"u":3,"e":4,"c":"MC1"},{"r":5,"u":4,"e":5,"c":"MC1"},{"r":5,"u":5,"e":6,"c":"MC1"},{"r":5,"u":6,"e":7,"c":"MC1"},{"r":5,"u":7,"e":8,"c":"MC1"},{"r":5,"u":8,"e":9,"c":"MC1"},{"r":5,"u":9,"e":10,"c":"MC1"},{"r":5,"u":10,"e":11,"c":"MC4"},{"r":5,"u":11,"e":12,"c":"MC1"},{"r":5,"u":12,"e":13,"c":"MC1"},{"r":5,"u":13,"e":14,"c":"MC3"},{"r":5,"u":14,"e":15,"c":"MC3"},{"r":5,"u":15,"e":16,"c":"MC3"},{"r":5,"u":16,"e":17,"c":"MC3"},{"r":5,"u":17,"e":18,"c":"MC1"},
{"r":5,"u":21,"e":22,"c":"MC4"},{"r":5,"u":22,"e":23,"c":"MC3"},{"r":5,"u":23,"e":24,"c":"MC3"},{"r":5,"u":24,"e":25,"c":"MC4"},{"r":5,"u":25,"e":26,"c":"MC4"},{"r":5,"u":26,"e":27,"c":"MC3"},{"r":5,"u":27,"e":28,"c":"MC4"},{"r":5,"u":28,"e":29,"c":"MC3"},{"r":5,"u":29,"e":30,"c":"MC4"},{"r":5,"u":30,"e":31,"c":"MC2"},{"r":5,"u":31,"e":32,"c":"MC2"},{"r":5,"u":32,"e":33,"c":"MC2"},{"r":5,"u":33,"e":34,"c":"MC2"},{"r":5,"u":34,"e":35,"c":"MC2"},{"r":5,"u":35,"e":36,"c":"MC2"},{"r":5,"u":36,"e":37,"c":"MC2"},{"r":5,"u":37,"e":38,"c":"MC4"},{"r":5,"u":38,"e":39,"c":"MC4"},{"r":5,"u":39,"e":40,"c":"MC4"},{"r":5,"u":40,"e":41,"c":"MC4"},
{"r":6,"u":0,"e":1,"c":"AC4"},{"r":6,"u":1,"e":2,"c":"AC3"},{"r":6,"u":2,"e":3,"c":"AC4"},{"r":6,"u":3,"e":4,"c":"NA"},{"r":6,"u":4,"e":5,"c":"AC1"},{"r":6,"u":5,"e":6,"c":"AC4"},{"r":6,"u":6,"e":7,"c":"AC4"},{"r":6,"u":7,"e":8,"c":"AC4"},{"r":6,"u":8,"e":9,"c":"AC3"},{"r":6,"u":9,"e":10,"c":"AC4"},{"r":6,"u":10,"e":11,"c":"NA"},{"r":6,"u":11,"e":12,"c":"NA"},{"r":6,"u":12,"e":13,"c":"AC4"},{"r":6,"u":13,"e":14,"c":"AC3"},{"r":6,"u":14,"e":15,"c":"AC3"},{"r":6,"u":15,"e":16,"c":"AC3"},{"r":6,"u":16,"e":17,"c":"AC3"},{"r":6,"u":17,"e":18,"c":"AC3"},
{"r":6,"u":21,"e":22,"c":"NA"},{"r":6,"u":22,"e":23,"c":"AC2"},{"r":6,"u":23,"e":24,"c":"AC2"},{"r":6,"u":24,"e":25,"c":"AC2"},{"r":6,"u":25,"e":26,"c":"AC2"},{"r":6,"u":26,"e":27,"c":"AC3"},{"r":6,"u":27,"e":28,"c":"AC2"},{"r":6,"u":28,"e":29,"c":"AC3"},{"r":6,"u":29,"e":30,"c":"NA"},{"r":6,"u":30,"e":31,"c":"NA"},{"r":6,"u":31,"e":32,"c":"AC1"},{"r":6,"u":32,"e":33,"c":"AC1"},{"r":6,"u":33,"e":34,"c":"AC1"},{"r":6,"u":34,"e":35,"c":"AC1"},{"r":6,"u":35,"e":36,"c":"AC1"},{"r":6,"u":36,"e":37,"c":"AC3"},{"r":6,"u":37,"e":38,"c":"NA"},{"r":6,"u":38,"e":39,"c":"NA"},{"r":6,"u":39,"e":40,"c":"NA"},{"r":6,"u":40,"e":41,"c":"NA"},
{"r":7,"u":0,"e":1,"c":"WC2"},{"r":7,"u":1,"e":2,"c":"NA"},{"r":7,"u":2,"e":3,"c":"WC2"},{"r":7,"u":3,"e":4,"c":"NA"},{"r":7,"u":4,"e":5,"c":"WC2"},{"r":7,"u":5,"e":6,"c":"WC2"},{"r":7,"u":6,"e":7,"c":"WC2"},{"r":7,"u":7,"e":8,"c":"WC2"},{"r":7,"u":8,"e":9,"c":"WC2"},{"r":7,"u":9,"e":10,"c":"NA"},{"r":7,"u":10,"e":11,"c":"NA"},{"r":7,"u":11,"e":12,"c":"NA"},{"r":7,"u":12,"e":13,"c":"NA"},{"r":7,"u":13,"e":14,"c":"NA"},{"r":7,"u":14,"e":15,"c":"NA"},{"r":7,"u":15,"e":16,"c":"WC1"},{"r":7,"u":16,"e":17,"c":"WC1"},{"r":7,"u":17,"e":18,"c":"NA"},
{"r":7,"u":21,"e":22,"c":"NA"},{"r":7,"u":22,"e":23,"c":"WC2"},{"r":7,"u":23,"e":24,"c":"WC2"},{"r":7,"u":24,"e":25,"c":"WC2"},{"r":7,"u":25,"e":26,"c":"NA"},{"r":7,"u":26,"e":27,"c":"WC2"},{"r":7,"u":27,"e":28,"c":"WC1"},{"r":7,"u":28,"e":29,"c":"NA"},{"r":7,"u":29,"e":30,"c":"NA"},{"r":7,"u":30,"e":31,"c":"NA"},{"r":7,"u":31,"e":32,"c":"WC1"},{"r":7,"u":32,"e":33,"c":"WC1"},{"r":7,"u":33,"e":34,"c":"WC1"},{"r":7,"u":34,"e":35,"c":"WC1"},{"r":7,"u":35,"e":36,"c":"NA"},{"r":7,"u":36,"e":37,"c":"NA"},{"r":7,"u":37,"e":38,"c":"NA"},{"r":7,"u":38,"e":39,"c":"WC2"},{"r":7,"u":39,"e":40,"c":"NA"},{"r":7,"u":40,"e":41,"c":"NA"}]},"transform":[{"lookup":"r","from":{"data":{"name":"rings"},"key":"r","fields":["r0","r1"]}}],"mark":{"type":"arc","stroke":"#ffffff","strokeWidth":0.5},"encoding":{"x":{"datum":0,"scale":{"domain":[-1,1],"range":[25.3,288.7]},"axis":null},"y":{"datum":0,"scale":{"domain":[-1,1],"range":[638.3,901.7]},"axis":null},"theta":{"field":"u","type":"quantitative","scale":{"domain":[0,45.57],"range":[0.3578,6.641]}},"theta2":{"field":"e"},"radius":{"field":"r1","type":"quantitative","scale":{"type":"linear","domain":[0,1],"range":[0,131.7]}},"radius2":{"field":"r0"},"color":{"field":"c","type":"nominal","scale":{"domain":["EC1","EC2","RC1","RC2","HC1","HC2","HC3","HC4","TC1","TC2","TC3","TC4","MC1","MC2","MC3","MC4","AC1","AC2","AC3","AC4","WC1","WC2","NA"],"range":["#4A7FC0","#F26060","#A8DC7F","#6E543D","#6C9BD2","#4F4F4F","#FBC31A","#EE4423","#33A648","#2F6DB5","#A6D5E8","#A8DC7F","#C464B5","#FDBE6F","#F6E88A","#F58045","#E39B00","#C464B5","#0072B2","#009E73","#999999","#4F4F4F","#FBFBF3"]},"legend":null}}},
{"data":{"values":[{"a":0,"b":18,"r0":0.945,"r1":1},{"a":21,"b":41,"r0":0.945,"r1":1},{"a":0,"b":18,"r0":0.708,"r1":0.906},{"a":21,"b":41,"r0":0.708,"r1":0.906},{"a":0,"b":18,"r0":0.456,"r1":0.645},{"a":21,"b":41,"r0":0.456,"r1":0.645}]},"mark":{"type":"arc","fillOpacity":0,"stroke":"#333333","strokeWidth":0.6},"encoding":{"x":{"datum":0,"scale":{"domain":[-1,1],"range":[25.3,288.7]},"axis":null},"y":{"datum":0,"scale":{"domain":[-1,1],"range":[638.3,901.7]},"axis":null},"theta":{"field":"a","type":"quantitative","scale":{"domain":[0,45.57],"range":[0.3578,6.641]}},"theta2":{"field":"b"},"radius":{"field":"r1","type":"quantitative","scale":{"type":"linear","domain":[0,1],"range":[0,131.7]}},"radius2":{"field":"r0"}}},
{"data":{"name":"cellsC2"},"mark":{"type":"point","filled":true,"opacity":1,"size":400,"stroke":"#666","strokeWidth":0.6,"shape":"M-0.48,-0.35H0.48V0.35H-0.48Z"},"encoding":{"x":{"field":"c","type":"quantitative","scale":{"domain":[-0.5,19.5],"range":[386,576.7]},"axis":null},"y":{"field":"t","type":"quantitative","scale":{"domain":[1,16],"range":[685,838]},"axis":null},"color":{"field":"v","type":"nominal","scale":{"domain":["Cx","t911","t35","p8","p11","inv16","t821","N","W","M","S","T","A"],"range":["#5E2A6F","#1F7A9F","#9E5F8F","#F27A1A","#F7989A","#EE5350","#FFE066","#FBFBF3","#FBFBF3","#F8B262","#F8B262","#FBFBF3","#D9D9D9"]},"legend":null}}},
{"data":{"name":"cellsC2"},"transform":[{"filter":{"field":"v","oneOf":["S","T"]}}],"mark":{"type":"circle","size":6,"color":"#F4505A","opacity":1},"encoding":{"x":{"field":"c","type":"quantitative","scale":{"domain":[-0.5,19.5],"range":[386,576.7]},"axis":null},"y":{"field":"t","type":"quantitative","scale":{"domain":[1,16],"range":[685,838]},"axis":null}}},
{"data":{"name":"fusC2"},"mark":{"type":"point","filled":true,"opacity":1,"size":144,"stroke":"#F48080","strokeWidth":0.9,"shape":"M-0.75,0A0.75,1 0 1,1 0.75,0A0.75,1 0 1,1 -0.75,0Z"},"encoding":{"x":{"field":"c","type":"quantitative","scale":{"domain":[-0.5,19.5],"range":[386,576.7]},"axis":null},"y":{"field":"t","type":"quantitative","scale":{"domain":[1,16],"range":[685,838]},"axis":null},"color":{"field":"v","type":"nominal","scale":{"domain":["P","L","N"],"range":["#F797AE","#FAD5DF","#FBFBF3"]},"legend":null}}},
{"data":{"name":"cellsC1"},"mark":{"type":"point","filled":true,"opacity":1,"size":400,"stroke":"#666","strokeWidth":0.6,"shape":"M-0.48,-0.35H0.48V0.35H-0.48Z"},"encoding":{"x":{"field":"c","type":"quantitative","scale":{"domain":[-0.5,17.5],"range":[581,752.3]},"axis":null},"y":{"field":"t","type":"quantitative","scale":{"domain":[1,16],"range":[685,838]},"axis":null},"color":{"field":"v","type":"nominal","scale":{"domain":["Cx","t911","t35","p8","p11","inv16","t821","N","W","M","S","T","A"],"range":["#5E2A6F","#1F7A9F","#9E5F8F","#F27A1A","#F7989A","#EE5350","#FFE066","#FBFBF3","#FBFBF3","#F8B262","#F8B262","#FBFBF3","#D9D9D9"]},"legend":null}}},
{"data":{"name":"cellsC1"},"transform":[{"filter":{"field":"v","oneOf":["S","T"]}}],"mark":{"type":"circle","size":6,"color":"#F4505A","opacity":1},"encoding":{"x":{"field":"c","type":"quantitative","scale":{"domain":[-0.5,17.5],"range":[581,752.3]},"axis":null},"y":{"field":"t","type":"quantitative","scale":{"domain":[1,16],"range":[685,838]},"axis":null}}},
{"data":{"name":"fusC1"},"mark":{"type":"point","filled":true,"opacity":1,"size":144,"stroke":"#6A9BD2","strokeWidth":0.9,"shape":"M-0.75,0A0.75,1 0 1,1 0.75,0A0.75,1 0 1,1 -0.75,0Z"},"encoding":{"x":{"field":"c","type":"quantitative","scale":{"domain":[-0.5,17.5],"range":[581,752.3]},"axis":null},"y":{"field":"t","type":"quantitative","scale":{"domain":[1,16],"range":[685,838]},"axis":null},"color":{"field":"v","type":"nominal","scale":{"domain":["P","L","N"],"range":["#F797AE","#FAD5DF","#FBFBF3"]},"legend":null}}},
{"data":{"values":[{"n":"NPM1","t":2},{"n":"FLT3","t":3},{"n":"DNMT3A","t":4},{"n":"CEBPA","t":5},{"n":"RUNX1","t":6},{"n":"SRSF2","t":7},{"n":"SF3B1","t":7.8}]},"mark":{"type":"text","align":"right","fontSize":11,"fontStyle":"italic"},"encoding":{"text":{"field":"n"},"x":{"datum":47.8,"scale":{"domain":[0,100],"range":[0,800]},"axis":null},"y":{"field":"t","type":"quantitative","scale":{"domain":[1,16],"range":[685,838]},"axis":null},"color":{"field":"n","type":"nominal","scale":{"domain":["NPM1","FLT3","DNMT3A","CEBPA","RUNX1","SRSF2","SF3B1"],"range":["#F7B6C2","#F8DC6C","#2E86AB","#F58220","#F58220","#B5DFA0","#B5DFA0"]},"legend":null}}},
{"data":{"values":[{"n":"Karyotype","t":1}]},"mark":{"type":"text","align":"right","fontSize":11,"color":"#5E2A6F"},"encoding":{"text":{"field":"n"},"x":{"datum":47.8,"scale":{"domain":[0,100],"range":[0,800]},"axis":null},"y":{"field":"t","type":"quantitative","scale":{"domain":[1,16],"range":[685,838]},"axis":null}}},
{"data":{"values":[{"n":"KANSL1-ARL17A","t":9},{"n":"CBFβ-MYH11","t":10.3},{"n":"AML1-ETO","t":11.7},{"n":"MLL-AF9","t":13.05},{"n":"NPM1-MLF1","t":14.4},{"n":"NUP98-NSD1","t":15.75}]},"mark":{"type":"text","align":"right","fontSize":9.8,"fontStyle":"italic","color":"#111"},"encoding":{"text":{"field":"n"},"x":{"datum":47.9,"scale":{"domain":[0,100],"range":[0,800]},"axis":null},"y":{"field":"t","type":"quantitative","scale":{"domain":[1,16],"range":[685,838]},"axis":null}}},
{"data":{"name":"pv","values":[{"t":2,"a":0,"b":1,"m":0.5,"s":"***"},{"t":3,"a":0,"b":1,"m":0.5,"s":"*"},{"t":6,"a":0,"b":1,"m":0.5,"s":"*"}]},"mark":{"type":"rule","color":"#CCCCCC","strokeWidth":7},"encoding":{"x":{"field":"a","type":"quantitative","scale":{"domain":[0,1],"range":[758.3,782.7]},"axis":null},"x2":{"field":"b"},"y":{"field":"t","type":"quantitative","scale":{"domain":[1,16],"range":[685,838]},"axis":null}}},
{"data":{"name":"pv"},"mark":{"type":"text","fontSize":13,"fontWeight":"bold","color":"#111","dy":2.5},"encoding":{"text":{"field":"s"},"x":{"field":"m","type":"quantitative","scale":{"domain":[0,1],"range":[758.3,782.7]},"axis":null},"y":{"field":"t","type":"quantitative","scale":{"domain":[1,16],"range":[685,838]},"axis":null}}},
{"data":{"values":[{"k":"H2","a":48.25,"b":72.1,"c":71,"d":72.6},{"k":"H1","a":72.6,"b":94,"c":71,"d":72.6}]},"mark":{"type":"rect"},"encoding":{"x":{"field":"a","type":"quantitative","scale":{"domain":[0,100],"range":[0,800]},"axis":null},"x2":{"field":"b"},"y":{"field":"c","type":"quantitative","scale":{"domain":[0,100],"range":[0,933]},"axis":null},"y2":{"field":"d"},"color":{"field":"k","type":"nominal","scale":{"domain":["H2","H1"],"range":["#F25F5C","#3F7FC0"]},"legend":null}}},
{"data":{"values":[{"t":"C2 #","a":55.8,"c":71.8},{"t":"C1 #","a":75.3,"c":71.8},{"t":"/ Spliceosome","a":88,"c":71.8}]},"mark":{"type":"text","fontSize":12,"color":"#ffffff"},"encoding":{"text":{"field":"t"},"x":{"field":"a","type":"quantitative","scale":{"domain":[0,100],"range":[0,800]},"axis":null},"y":{"field":"c","type":"quantitative","scale":{"domain":[0,100],"range":[0,933]},"axis":null}}},
{"data":{"values":[{"t":"NPM1 / MLL","a":62.2,"c":71.8},{"t":"RUNX1","a":80,"c":71.8}]},"mark":{"type":"text","fontSize":12,"fontStyle":"italic","color":"#ffffff"},"encoding":{"text":{"field":"t"},"x":{"field":"a","type":"quantitative","scale":{"domain":[0,100],"range":[0,800]},"axis":null},"y":{"field":"c","type":"quantitative","scale":{"domain":[0,100],"range":[0,933]},"axis":null}}},
{"data":{"values":[{"k":"inv(16)","a":46.2,"c":93.39},{"k":"t(8;21)","a":51.1,"c":93.39},{"k":"t(9;11)","a":55.9,"c":93.39},{"k":"t(3;5)","a":61.5,"c":93.39},{"k":"+8","a":46.2,"c":95.32},{"k":"+11","a":51.1,"c":95.32},{"k":"Complex","a":55.9,"c":95.32},{"k":"Normal","a":61.5,"c":95.32}]},"mark":{"type":"point","filled":true,"opacity":1,"size":100,"stroke":"#666","strokeWidth":0.6,"shape":"M-0.78,-0.55H0.78V0.55H-0.78Z"},"encoding":{"x":{"field":"a","type":"quantitative","scale":{"domain":[0,100],"range":[0,800]},"axis":null},"y":{"field":"c","type":"quantitative","scale":{"domain":[0,100],"range":[0,933]},"axis":null},"color":{"field":"k","type":"nominal","scale":{"domain":["inv(16)","t(8;21)","t(9;11)","t(3;5)","+8","+11","Complex","Normal"],"range":["#EE5350","#FFE066","#1F7A9F","#9E5F8F","#F27A1A","#F7989A","#5E2A6F","#FBFBF3"]},"legend":null}}},
{"data":{"values":[{"t":"inv(16)","a":46.95,"c":93.39},{"t":"t(8;21)","a":51.85,"c":93.39},{"t":"t(9;11)","a":56.65,"c":93.39},{"t":"t(3;5)","a":62.35,"c":93.39},{"t":"+8","a":46.95,"c":95.32},{"t":"+11","a":51.85,"c":95.32},{"t":"Complex","a":56.65,"c":95.32},{"t":"Normal","a":62.35,"c":95.32}]},"mark":{"type":"text","align":"left","fontSize":7.5,"color":"#222"},"encoding":{"text":{"field":"t"},"x":{"field":"a","type":"quantitative","scale":{"domain":[0,100],"range":[0,800]},"axis":null},"y":{"field":"c","type":"quantitative","scale":{"domain":[0,100],"range":[0,933]},"axis":null}}},
{"data":{"values":[{"k":"M","a":68.9,"b":69.9,"c":92.7,"d":93.4},{"k":"W","a":75.3,"b":76.3,"c":92.7,"d":93.4},{"k":"NA","a":68.9,"b":69.9,"c":95.1,"d":95.8},{"k":"W","a":22.2,"b":23.2,"c":86.4,"d":87.2}]},"mark":{"type":"rect","stroke":"#555","strokeWidth":0.7},"encoding":{"x":{"field":"a","type":"quantitative","scale":{"domain":[0,100],"range":[0,800]},"axis":null},"x2":{"field":"b"},"y":{"field":"c","type":"quantitative","scale":{"domain":[0,100],"range":[0,933]},"axis":null},"y2":{"field":"d"},"color":{"field":"k","type":"nominal","scale":{"domain":["M","W","NA"],"range":["#F8B262","#FBFBF3","#D9D9D9"]},"legend":null}}},
{"data":{"values":[{"a":84,"c":93.8,"k":"P"},{"a":89.3,"c":93.8,"k":"L"},{"a":94.9,"c":93.7,"k":"N"}]},"mark":{"type":"point","filled":true,"opacity":1,"size":120,"stroke":"#666","strokeWidth":0.7,"shape":"M-0.75,0A0.75,1 0 1,1 0.75,0A0.75,1 0 1,1 -0.75,0Z"},"encoding":{"x":{"field":"a","type":"quantitative","scale":{"domain":[0,100],"range":[0,800]},"axis":null},"y":{"field":"c","type":"quantitative","scale":{"domain":[0,100],"range":[0,933]},"axis":null},"color":{"field":"k","type":"nominal","scale":{"domain":["P","L","N"],"range":["#F797AE","#FAD5DF","#FBFBF3"]},"legend":null}}},
{"data":{"values":[{"a":75.85,"c":95.6}]},"mark":{"type":"point","shape":"cross","filled":true,"opacity":1,"size":22,"color":"#F4505A"},"encoding":{"x":{"field":"a","type":"quantitative","scale":{"domain":[0,100],"range":[0,800]},"axis":null},"y":{"field":"c","type":"quantitative","scale":{"domain":[0,100],"range":[0,933]},"axis":null}}},
{"data":{"values":[{"a":8.5,"b":20.6,"c":7.29},{"a":8.5,"b":20.6,"c":10.72},{"a":8.5,"b":20.6,"c":15.86},{"a":8.5,"b":20.6,"c":19.29},{"a":8.5,"b":20.6,"c":21},{"a":17.7,"b":21.75,"c":78.1},{"a":17.7,"b":21.75,"c":80.3},{"a":13.75,"b":17.9,"c":82.5},{"a":21.5,"b":26.6,"c":82.5},{"a":13.75,"b":17.75,"c":84.7},{"a":20.9,"b":25,"c":84.7},{"a":16.25,"b":20,"c":87.25},{"a":45,"b":65.85,"c":92.4},{"a":67.6,"b":79.8,"c":92.42},{"a":82.8,"b":96.1,"c":92.4}]},"mark":{"type":"rule","color":"#555","strokeWidth":0.7},"encoding":{"x":{"field":"a","type":"quantitative","scale":{"domain":[0,100],"range":[0,800]},"axis":null},"x2":{"field":"b"},"y":{"field":"c","type":"quantitative","scale":{"domain":[0,100],"range":[0,933]},"axis":null}}},
{"data":{"values":[{"k":"dark","a":8.5,"b":20.6,"c":3.86,"d":24.44},{"k":"gray","a":38.6,"b":62.9,"c":8.39,"d":27.58},{"k":"dark","a":92.6,"b":96.2,"c":5.65,"d":27.44},{"k":"dark","a":70.34,"b":87.09,"c":33.87,"d":48.8},{"k":"mid","a":64.34,"b":76.79,"c":53.3,"d":66.88},{"k":"mid","a":83.54,"b":96.09,"c":53.48,"d":66.88},{"k":"red","a":68.6,"b":80.8,"c":6.14,"d":17.35},{"k":"black","a":80.8,"b":91.8,"c":17.35,"d":27.44}]},"mark":{"type":"rect","fillOpacity":0,"strokeWidth":1.2},"encoding":{"x":{"field":"a","type":"quantitative","scale":{"domain":[0,100],"range":[0,800]},"axis":null},"x2":{"field":"b"},"y":{"field":"c","type":"quantitative","scale":{"domain":[0,100],"range":[0,933]},"axis":null},"y2":{"field":"d"},"stroke":{"field":"k","type":"nominal","scale":{"domain":["dark","gray","mid","red","black"],"range":["#444444","#B5B5B5","#888888","#F25F5C","#111111"]},"legend":null}}},
{"data":{"values":[{"t":"A","a":2.6,"c":1.85},{"t":"B","a":34.6,"c":1.85},{"t":"C","a":65.85,"c":1.85},{"t":"D","a":2.6,"c":37.4},{"t":"E","a":2.6,"c":67.5},{"t":"F","a":42.7,"c":67.5},{"t":"G","a":66,"c":31.8}]},"mark":{"type":"text","fontSize":14.5,"fontWeight":"bold","color":"#000"},"encoding":{"text":{"field":"t"},"x":{"field":"a","type":"quantitative","scale":{"domain":[0,100],"range":[0,800]},"axis":null},"y":{"field":"c","type":"quantitative","scale":{"domain":[0,100],"range":[0,933]},"axis":null}}},
{"data":{"values":[{"t":"Chromatin States","a":2.1,"c":13.9}]},"mark":{"type":"text","fontSize":12.6,"angle":270,"color":"#111"},"encoding":{"text":{"field":"t"},"x":{"field":"a","type":"quantitative","scale":{"domain":[0,100],"range":[0,800]},"axis":null},"y":{"field":"c","type":"quantitative","scale":{"domain":[0,100],"range":[0,933]},"axis":null}}},
{"data":{"values":[{"t":"Consensus","a":5.1,"c":55.4},{"t":"clustering","a":5.1,"c":56.9}]},"mark":{"type":"text","fontSize":12,"color":"#111"},"encoding":{"text":{"field":"t"},"x":{"field":"a","type":"quantitative","scale":{"domain":[0,100],"range":[0,800]},"axis":null},"y":{"field":"c","type":"quantitative","scale":{"domain":[0,100],"range":[0,933]},"axis":null}}},
{"data":{"values":[{"t":"Average C2: 0.949","a":74.9,"c":11.8},{"t":"Average C1: 0.801","a":86.3,"c":22.1},{"t":"Multi-omics Subtype","a":20.6,"c":67.5},{"t":"B-H","a":21,"c":97.1},{"t":"p-value","a":21.2,"c":98.2},{"t":"B-H","a":96.3,"c":71.6},{"t":"p-value","a":96.3,"c":73},{"t":"hyper in C1","a":74.6,"c":31.7},{"t":"(n = 1,326)","a":74.6,"c":33.1},{"t":"hyper in C2","a":82.4,"c":31.7},{"t":"(n = 61)","a":82.4,"c":33.1},{"t":"Karyotypes","a":55.7,"c":91.7},{"t":"Gene mutations","a":74,"c":91.8},{"t":"Gene fusions","a":89.5,"c":91.7}]},"mark":{"type":"text","fontSize":10,"color":"#111"},"encoding":{"text":{"field":"t"},"x":{"field":"a","type":"quantitative","scale":{"domain":[0,100],"range":[0,800]},"axis":null},"y":{"field":"c","type":"quantitative","scale":{"domain":[0,100],"range":[0,933]},"axis":null}}},
{"data":{"values":[{"t":"(combinedRank < 3,000)","a":78.9,"c":52.1},{"t":"CpG islands","a":82.5,"c":36},{"t":"Mutated","a":69.5,"c":94.2},{"t":"Wild-type","a":75.9,"c":94.2},{"t":"NA","a":69.4,"c":96.6},{"t":"Positive","a":83.8,"c":95},{"t":"Low/No reads","a":89.5,"c":95},{"t":"Negative","a":95.3,"c":95}]},"mark":{"type":"text","fontSize":7.6,"color":"#222"},"encoding":{"text":{"field":"t"},"x":{"field":"a","type":"quantitative","scale":{"domain":[0,100],"range":[0,800]},"axis":null},"y":{"field":"c","type":"quantitative","scale":{"domain":[0,100],"range":[0,933]},"axis":null}}},
{"data":{"values":[{"t":"NPM1/FLT3 validation","a":75.8,"c":96.7},{"t":"by RNA-Seq","a":75.9,"c":97.6}]},"mark":{"type":"text","fontSize":6,"color":"#222"},"encoding":{"text":{"field":"t"},"x":{"field":"a","type":"quantitative","scale":{"domain":[0,100],"range":[0,800]},"axis":null},"y":{"field":"c","type":"quantitative","scale":{"domain":[0,100],"range":[0,933]},"axis":null}}},
{"data":{"values":[{"t":"AU: Approximately Unbiased","a":24.4,"c":39.4,"k":"au"},{"t":"BP: Bootstrap Probability","a":24.4,"c":40.8,"k":"bp"}]},"mark":{"type":"text","align":"left","fontSize":8},"encoding":{"text":{"field":"t"},"x":{"field":"a","type":"quantitative","scale":{"domain":[0,100],"range":[0,800]},"axis":null},"y":{"field":"c","type":"quantitative","scale":{"domain":[0,100],"range":[0,933]},"axis":null},"color":{"field":"k","type":"nominal","scale":{"domain":["au","bp"],"range":["#F0323C","#2FD02F"]},"legend":null}}},
{"data":{"values":[{"t":"3_EnhS_H3K4me1","a":20.2,"c":69.1},{"t":"9_ReprPC_H3K27me3","a":20.2,"c":70.8},{"t":"10_Het_H3K9me3","a":20.2,"c":71.8},{"t":"7_TxT_H3K36me3","a":20.2,"c":72.8},{"t":"RNA-Seq","a":20.2,"c":74.1},{"t":"DNaseI-Seq","a":20.2,"c":75.2},{"t":"WGBS","a":20.2,"c":76.3},{"t":"3_EnhS_H3K4me1","a":19.8,"c":77.6},{"t":"9_ReprPC_H3K27me3","a":19.7,"c":79.7},{"t":"7_TxT_H3K36me3","a":15.7,"c":81.9},{"t":"10_Het_H3K9me3","a":24,"c":81.9},{"t":"mRNA expression","a":15.5,"c":84.2},{"t":"DNA accessibility","a":23.2,"c":84.2},{"t":"DNA methylation","a":18.1,"c":86.7},{"t":"NA","a":24.2,"c":86.8}]},"mark":{"type":"text","fontSize":6.5,"color":"#222"},"encoding":{"text":{"field":"t"},"x":{"field":"a","type":"quantitative","scale":{"domain":[0,100],"range":[0,800]},"axis":null},"y":{"field":"c","type":"quantitative","scale":{"domain":[0,100],"range":[0,933]},"axis":null}}},
{"data":{"values":[{"t":"C1","a":18.75,"c":78.7,"k":"EC1"},{"t":"C2","a":20.5,"c":78.7,"k":"EC2"},{"t":"C1","a":18.8,"c":80.8,"k":"RC1"},{"t":"C2","a":20.6,"c":80.8,"k":"RC2"},{"t":"C1","a":13.5,"c":83.1,"k":"TC1"},{"t":"C2","a":14.9,"c":83.1,"k":"TC2"},{"t":"C3","a":16.3,"c":83.1,"k":"TC3"},{"t":"C4","a":17.8,"c":83.1,"k":"RC1"},{"t":"C1","a":21.9,"c":83.1,"k":"HC1"},{"t":"C2","a":23.3,"c":83.1,"k":"HC2"},{"t":"C3","a":24.8,"c":83.1,"k":"HC3"},{"t":"C4","a":26.3,"c":83.1,"k":"HC4"},{"t":"C1","a":13.5,"c":85.3,"k":"MC1"},{"t":"C2","a":14.9,"c":85.3,"k":"MC2"},{"t":"C3","a":16.3,"c":85.3,"k":"MC3"},{"t":"C4","a":17.8,"c":85.3,"k":"MC4"},{"t":"C1","a":21.1,"c":85.3,"k":"AC1"},{"t":"C2","a":22.4,"c":85.3,"k":"MC1"},{"t":"C3","a":23.8,"c":85.3,"k":"AC3"},{"t":"C4","a":25.1,"c":85.3,"k":"AC4"},{"t":"C1","a":17,"c":87.8,"k":"WC1"},{"t":"C2","a":19.1,"c":87.8,"k":"WC2"}]},"mark":{"type":"text","fontSize":7.8},"encoding":{"text":{"field":"t"},"x":{"field":"a","type":"quantitative","scale":{"domain":[0,100],"range":[0,800]},"axis":null},"y":{"field":"c","type":"quantitative","scale":{"domain":[0,100],"range":[0,933]},"axis":null},"color":{"field":"k","type":"nominal","scale":{"domain":["EC1","EC2","RC1","RC2","HC1","HC2","HC3","HC4","TC1","TC2","TC3","MC1","MC2","MC3","MC4","AC1","AC3","AC4","WC1","WC2"],"range":["#4A7FC0","#F26060","#A8DC7F","#6E543D","#6C9BD2","#4F4F4F","#FBC31A","#EE4423","#33A648","#2F6DB5","#A6D5E8","#C464B5","#FDBE6F","#F6E88A","#F58045","#E39B00","#0072B2","#009E73","#999999","#4F4F4F"]},"legend":null}}},
{"data":{"values":[{"t":"***","a":20.8,"c":90.3},{"t":"***","a":20.8,"c":91.2},{"t":"*","a":20.8,"c":92.9},{"t":"*","a":20.8,"c":94},{"t":"***","a":20.8,"c":95.1}]},"mark":{"type":"text","fontSize":15,"fontWeight":"bold","color":"#000"},"encoding":{"text":{"field":"t"},"x":{"field":"a","type":"quantitative","scale":{"domain":[0,100],"range":[0,800]},"axis":null},"y":{"field":"c","type":"quantitative","scale":{"domain":[0,100],"range":[0,933]},"axis":null}}}
]}
